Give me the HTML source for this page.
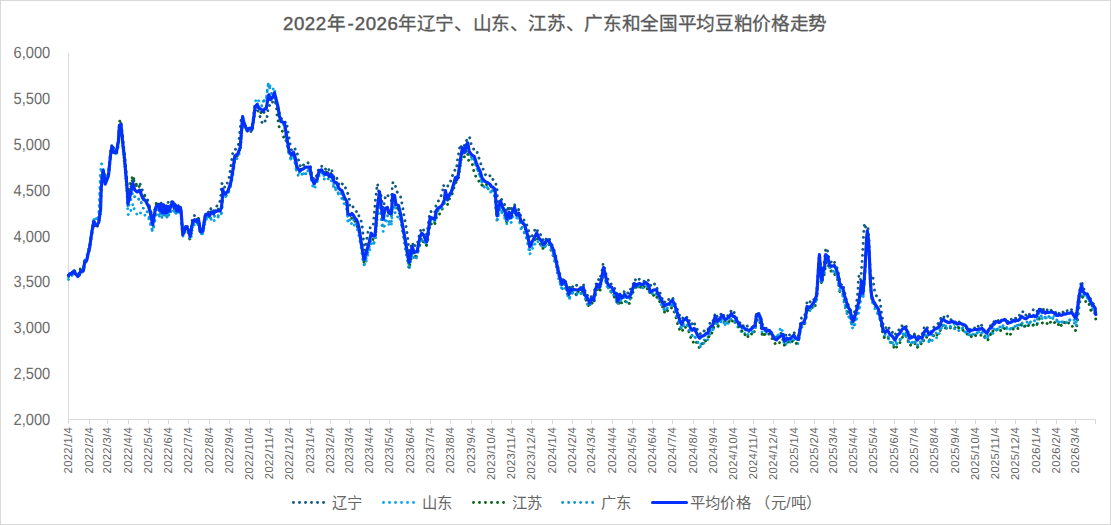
<!DOCTYPE html>
<html lang="zh-CN"><head><meta charset="utf-8"><title>豆粕价格走势</title>
<style>html,body{margin:0;padding:0;background:#fff;}body{width:1111px;height:525px;overflow:hidden;font-family:"Liberation Sans",sans-serif;}svg{display:block;}text{font-family:"Liberation Sans",sans-serif;}</style>
</head><body>
<svg width="1111" height="525" viewBox="0 0 1111 525">
<rect x="0" y="0" width="1111" height="525" fill="#ffffff"/>
<rect x="0.5" y="0.5" width="1110" height="524" fill="none" stroke="#d9d9d9" stroke-width="1"/>
<text y="30" font-size="18.67" fill="#595959" stroke="#595959" stroke-width="0.45" stroke-linejoin="round"><tspan x="283.0" letter-spacing="0.52">2022</tspan><tspan x="327.0">年</tspan><tspan x="347.6">-</tspan><tspan x="354.8" letter-spacing="0.52">2026</tspan><tspan x="397.90 416.55 435.20 453.85 472.50 491.15 509.80 528.45 547.10 565.75 584.40 603.05 621.70 640.35 659.00 677.65 696.30 714.95 733.60 752.25 770.90 789.55 808.20" stroke-width="0.3">年辽宁、山东、江苏、广东和全国平均豆粕价格走势</tspan></text>
<text style="text-rendering:geometricPrecision" transform="translate(50.2 424.80) scale(0.9 1.0)" text-anchor="end" font-size="16.3" fill="#6c6c6c">2,000</text>
<text style="text-rendering:geometricPrecision" transform="translate(50.2 378.99) scale(0.9 1.0)" text-anchor="end" font-size="16.3" fill="#6c6c6c">2,500</text>
<text style="text-rendering:geometricPrecision" transform="translate(50.2 333.18) scale(0.9 1.0)" text-anchor="end" font-size="16.3" fill="#6c6c6c">3,000</text>
<text style="text-rendering:geometricPrecision" transform="translate(50.2 287.36) scale(0.9 1.0)" text-anchor="end" font-size="16.3" fill="#6c6c6c">3,500</text>
<text style="text-rendering:geometricPrecision" transform="translate(50.2 241.55) scale(0.9 1.0)" text-anchor="end" font-size="16.3" fill="#6c6c6c">4,000</text>
<text style="text-rendering:geometricPrecision" transform="translate(50.2 195.74) scale(0.9 1.0)" text-anchor="end" font-size="16.3" fill="#6c6c6c">4,500</text>
<text style="text-rendering:geometricPrecision" transform="translate(50.2 149.93) scale(0.9 1.0)" text-anchor="end" font-size="16.3" fill="#6c6c6c">5,000</text>
<text style="text-rendering:geometricPrecision" transform="translate(50.2 104.11) scale(0.9 1.0)" text-anchor="end" font-size="16.3" fill="#6c6c6c">5,500</text>
<text style="text-rendering:geometricPrecision" transform="translate(50.2 58.30) scale(0.9 1.0)" text-anchor="end" font-size="16.3" fill="#6c6c6c">6,000</text>
<path d="M68.5 53.0 V419.5 H1095.5" fill="none" stroke="#d9d9d9" stroke-width="1"/>
<path d="M68.50 419.5v4.5M89.50 419.5v4.5M107.50 419.5v4.5M128.50 419.5v4.5M148.50 419.5v4.5M168.50 419.5v4.5M188.50 419.5v4.5M209.50 419.5v4.5M229.50 419.5v4.5M249.50 419.5v4.5M269.50 419.5v4.5M289.50 419.5v4.5M310.50 419.5v4.5M330.50 419.5v4.5M349.50 419.5v4.5M369.50 419.5v4.5M389.50 419.5v4.5M410.50 419.5v4.5M430.50 419.5v4.5M450.50 419.5v4.5M471.50 419.5v4.5M491.50 419.5v4.5M511.50 419.5v4.5M531.50 419.5v4.5M552.50 419.5v4.5M572.50 419.5v4.5M591.50 419.5v4.5M612.50 419.5v4.5M632.50 419.5v4.5M652.50 419.5v4.5M672.50 419.5v4.5M693.50 419.5v4.5M713.50 419.5v4.5M733.50 419.5v4.5M753.50 419.5v4.5M773.50 419.5v4.5M794.50 419.5v4.5M814.50 419.5v4.5M833.50 419.5v4.5M853.50 419.5v4.5M873.50 419.5v4.5M894.50 419.5v4.5M914.50 419.5v4.5M934.50 419.5v4.5M955.50 419.5v4.5M975.50 419.5v4.5M995.50 419.5v4.5M1015.50 419.5v4.5M1036.50 419.5v4.5M1056.50 419.5v4.5M1075.50 419.5v4.5M1095.50 419.5v4.5" fill="none" stroke="#d9d9d9" stroke-width="1"/>
<text transform="translate(72.40 427.0) rotate(-90)" text-anchor="end" font-size="11.3" letter-spacing="0.3" fill="#666666">2022/1/4</text>
<text transform="translate(93.40 427.0) rotate(-90)" text-anchor="end" font-size="11.3" letter-spacing="0.3" fill="#666666">2022/2/4</text>
<text transform="translate(111.40 427.0) rotate(-90)" text-anchor="end" font-size="11.3" letter-spacing="0.3" fill="#666666">2022/3/4</text>
<text transform="translate(132.40 427.0) rotate(-90)" text-anchor="end" font-size="11.3" letter-spacing="0.3" fill="#666666">2022/4/4</text>
<text transform="translate(152.40 427.0) rotate(-90)" text-anchor="end" font-size="11.3" letter-spacing="0.3" fill="#666666">2022/5/4</text>
<text transform="translate(172.40 427.0) rotate(-90)" text-anchor="end" font-size="11.3" letter-spacing="0.3" fill="#666666">2022/6/4</text>
<text transform="translate(192.40 427.0) rotate(-90)" text-anchor="end" font-size="11.3" letter-spacing="0.3" fill="#666666">2022/7/4</text>
<text transform="translate(213.40 427.0) rotate(-90)" text-anchor="end" font-size="11.3" letter-spacing="0.3" fill="#666666">2022/8/4</text>
<text transform="translate(233.40 427.0) rotate(-90)" text-anchor="end" font-size="11.3" letter-spacing="0.3" fill="#666666">2022/9/4</text>
<text transform="translate(253.40 427.0) rotate(-90)" text-anchor="end" font-size="11.3" letter-spacing="0.3" fill="#666666">2022/10/4</text>
<text transform="translate(273.40 427.0) rotate(-90)" text-anchor="end" font-size="11.3" letter-spacing="0.3" fill="#666666">2022/11/4</text>
<text transform="translate(293.40 427.0) rotate(-90)" text-anchor="end" font-size="11.3" letter-spacing="0.3" fill="#666666">2022/12/4</text>
<text transform="translate(314.40 427.0) rotate(-90)" text-anchor="end" font-size="11.3" letter-spacing="0.3" fill="#666666">2023/1/4</text>
<text transform="translate(334.40 427.0) rotate(-90)" text-anchor="end" font-size="11.3" letter-spacing="0.3" fill="#666666">2023/2/4</text>
<text transform="translate(353.40 427.0) rotate(-90)" text-anchor="end" font-size="11.3" letter-spacing="0.3" fill="#666666">2023/3/4</text>
<text transform="translate(373.40 427.0) rotate(-90)" text-anchor="end" font-size="11.3" letter-spacing="0.3" fill="#666666">2023/4/4</text>
<text transform="translate(393.40 427.0) rotate(-90)" text-anchor="end" font-size="11.3" letter-spacing="0.3" fill="#666666">2023/5/4</text>
<text transform="translate(414.40 427.0) rotate(-90)" text-anchor="end" font-size="11.3" letter-spacing="0.3" fill="#666666">2023/6/4</text>
<text transform="translate(434.40 427.0) rotate(-90)" text-anchor="end" font-size="11.3" letter-spacing="0.3" fill="#666666">2023/7/4</text>
<text transform="translate(454.40 427.0) rotate(-90)" text-anchor="end" font-size="11.3" letter-spacing="0.3" fill="#666666">2023/8/4</text>
<text transform="translate(475.40 427.0) rotate(-90)" text-anchor="end" font-size="11.3" letter-spacing="0.3" fill="#666666">2023/9/4</text>
<text transform="translate(495.40 427.0) rotate(-90)" text-anchor="end" font-size="11.3" letter-spacing="0.3" fill="#666666">2023/10/4</text>
<text transform="translate(515.40 427.0) rotate(-90)" text-anchor="end" font-size="11.3" letter-spacing="0.3" fill="#666666">2023/11/4</text>
<text transform="translate(535.40 427.0) rotate(-90)" text-anchor="end" font-size="11.3" letter-spacing="0.3" fill="#666666">2023/12/4</text>
<text transform="translate(556.40 427.0) rotate(-90)" text-anchor="end" font-size="11.3" letter-spacing="0.3" fill="#666666">2024/1/4</text>
<text transform="translate(576.40 427.0) rotate(-90)" text-anchor="end" font-size="11.3" letter-spacing="0.3" fill="#666666">2024/2/4</text>
<text transform="translate(595.40 427.0) rotate(-90)" text-anchor="end" font-size="11.3" letter-spacing="0.3" fill="#666666">2024/3/4</text>
<text transform="translate(616.40 427.0) rotate(-90)" text-anchor="end" font-size="11.3" letter-spacing="0.3" fill="#666666">2024/4/4</text>
<text transform="translate(636.40 427.0) rotate(-90)" text-anchor="end" font-size="11.3" letter-spacing="0.3" fill="#666666">2024/5/4</text>
<text transform="translate(656.40 427.0) rotate(-90)" text-anchor="end" font-size="11.3" letter-spacing="0.3" fill="#666666">2024/6/4</text>
<text transform="translate(676.40 427.0) rotate(-90)" text-anchor="end" font-size="11.3" letter-spacing="0.3" fill="#666666">2024/7/4</text>
<text transform="translate(697.40 427.0) rotate(-90)" text-anchor="end" font-size="11.3" letter-spacing="0.3" fill="#666666">2024/8/4</text>
<text transform="translate(717.40 427.0) rotate(-90)" text-anchor="end" font-size="11.3" letter-spacing="0.3" fill="#666666">2024/9/4</text>
<text transform="translate(737.40 427.0) rotate(-90)" text-anchor="end" font-size="11.3" letter-spacing="0.3" fill="#666666">2024/10/4</text>
<text transform="translate(757.40 427.0) rotate(-90)" text-anchor="end" font-size="11.3" letter-spacing="0.3" fill="#666666">2024/11/4</text>
<text transform="translate(777.40 427.0) rotate(-90)" text-anchor="end" font-size="11.3" letter-spacing="0.3" fill="#666666">2024/12/4</text>
<text transform="translate(798.40 427.0) rotate(-90)" text-anchor="end" font-size="11.3" letter-spacing="0.3" fill="#666666">2025/1/4</text>
<text transform="translate(818.40 427.0) rotate(-90)" text-anchor="end" font-size="11.3" letter-spacing="0.3" fill="#666666">2025/2/4</text>
<text transform="translate(837.40 427.0) rotate(-90)" text-anchor="end" font-size="11.3" letter-spacing="0.3" fill="#666666">2025/3/4</text>
<text transform="translate(857.40 427.0) rotate(-90)" text-anchor="end" font-size="11.3" letter-spacing="0.3" fill="#666666">2025/4/4</text>
<text transform="translate(877.40 427.0) rotate(-90)" text-anchor="end" font-size="11.3" letter-spacing="0.3" fill="#666666">2025/5/4</text>
<text transform="translate(898.40 427.0) rotate(-90)" text-anchor="end" font-size="11.3" letter-spacing="0.3" fill="#666666">2025/6/4</text>
<text transform="translate(918.40 427.0) rotate(-90)" text-anchor="end" font-size="11.3" letter-spacing="0.3" fill="#666666">2025/7/4</text>
<text transform="translate(938.40 427.0) rotate(-90)" text-anchor="end" font-size="11.3" letter-spacing="0.3" fill="#666666">2025/8/4</text>
<text transform="translate(959.40 427.0) rotate(-90)" text-anchor="end" font-size="11.3" letter-spacing="0.3" fill="#666666">2025/9/4</text>
<text transform="translate(979.40 427.0) rotate(-90)" text-anchor="end" font-size="11.3" letter-spacing="0.3" fill="#666666">2025/10/4</text>
<text transform="translate(999.40 427.0) rotate(-90)" text-anchor="end" font-size="11.3" letter-spacing="0.3" fill="#666666">2025/11/4</text>
<text transform="translate(1019.40 427.0) rotate(-90)" text-anchor="end" font-size="11.3" letter-spacing="0.3" fill="#666666">2025/12/4</text>
<text transform="translate(1040.40 427.0) rotate(-90)" text-anchor="end" font-size="11.3" letter-spacing="0.3" fill="#666666">2026/1/4</text>
<text transform="translate(1060.40 427.0) rotate(-90)" text-anchor="end" font-size="11.3" letter-spacing="0.3" fill="#666666">2026/2/4</text>
<text transform="translate(1079.40 427.0) rotate(-90)" text-anchor="end" font-size="11.3" letter-spacing="0.3" fill="#666666">2026/3/4</text>
<path d="M68.5 276.5 L69.2 277.1 L69.8 276.5 L70.5 275.4 L71.1 274.1 L71.8 273.5 L72.5 271.8 L73.1 269.9 L73.8 269.4 L74.4 270.4 L75.1 271.9 L75.8 272.2 L76.4 273.3 L77.1 274.4 L77.7 274.3 L78.4 273.9 L79.1 273.0 L79.7 273.6 L80.4 272.3 L81.0 271.2 L81.7 272.0 L82.4 271.9 L83.0 272.3 L83.7 269.5 L84.3 264.9 L85.0 262.5 L85.7 262.4 L86.3 261.8 L87.0 259.4 L87.6 256.7 L88.3 253.7 L89.0 251.3 L89.6 248.3 L90.3 244.8 L90.9 240.2 L91.6 235.8 L92.3 231.7 L92.9 226.3 L93.6 221.6 L94.2 221.5 L94.9 223.9 L95.6 224.4 L96.2 225.6 L96.9 226.0 L97.5 224.5 L98.2 222.2 L98.9 220.6 L99.5 215.9 L100.2 212.1 L100.8 199.4 L101.5 183.4 L102.2 177.0 L102.8 173.1 L103.5 171.5 L104.1 175.1 L104.8 179.8 L105.5 181.9 L106.1 180.3 L106.8 178.7 L107.4 176.2 L108.1 174.9 L108.8 172.0 L109.4 165.0 L110.1 157.3 L110.7 151.1 L111.4 147.5 L112.1 143.8 L112.7 145.9 L113.4 147.4 L114.0 149.0 L114.7 149.0 L115.4 149.2 L116.0 150.5 L116.7 149.4 L117.3 146.7 L118.0 142.8 L118.7 136.0 L119.3 125.6 L120.0 121.8 L120.6 121.6 L121.3 125.1 L122.0 131.4 L122.6 138.6 L123.3 144.3 L123.9 148.7 L124.6 155.4 L125.3 162.4 L125.9 169.7 L126.6 177.2 L127.2 185.9 L127.9 199.7 L128.6 197.7 L129.2 195.4 L129.9 191.5 L130.5 189.8 L131.2 185.8 L131.9 183.0 L132.5 179.0 L133.2 177.9 L133.8 180.0 L134.5 183.8 L135.2 185.6 L135.8 185.5 L136.5 185.7 L137.1 185.4 L137.8 185.0 L138.5 184.0 L139.1 184.1 L139.8 183.1 L140.4 184.9 L141.1 186.4 L141.8 188.1 L142.4 190.4 L143.1 191.5 L143.7 192.9 L144.4 194.6 L145.1 196.2 L145.7 196.3 L146.4 198.1 L147.0 198.2 L147.7 200.1 L148.4 203.6 L149.0 205.2 L149.7 206.8 L150.3 209.3 L151.0 212.5 L151.7 215.8 L152.3 218.6 L153.0 219.4 L153.6 216.5 L154.3 212.7 L155.0 209.3 L155.6 206.2 L156.3 204.4 L156.9 203.8 L157.6 203.5 L158.3 202.4 L158.9 202.8 L159.6 205.9 L160.2 205.2 L160.9 201.9 L161.6 205.4 L162.2 209.0 L162.9 205.0 L163.5 203.9 L164.2 209.0 L164.9 209.2 L165.5 205.0 L166.2 204.3 L166.8 207.0 L167.5 205.5 L168.2 202.3 L168.8 205.3 L169.5 207.9 L170.1 205.9 L170.8 204.4 L171.5 202.2 L172.1 199.6 L172.8 199.6 L173.4 203.9 L174.1 206.2 L174.8 203.9 L175.4 202.5 L176.1 206.6 L176.7 207.5 L177.4 205.5 L178.1 204.3 L178.7 207.6 L179.4 207.8 L180.0 205.9 L180.7 208.3 L181.4 213.7 L182.0 222.2 L182.7 232.6 L183.3 231.3 L184.0 231.0 L184.7 228.9 L185.3 226.1 L186.0 225.1 L186.6 225.7 L187.3 226.5 L188.0 227.0 L188.6 229.2 L189.3 229.9 L189.9 232.1 L190.6 229.7 L191.3 227.4 L191.9 222.0 L192.6 218.1 L193.2 216.3 L193.9 215.5 L194.6 215.6 L195.2 216.6 L195.9 218.4 L196.5 218.5 L197.2 218.2 L197.9 218.4 L198.5 218.3 L199.2 222.1 L199.8 227.7 L200.5 229.4 L201.2 230.6 L201.8 230.4 L202.5 230.0 L203.1 226.4 L203.8 222.8 L204.5 219.8 L205.1 215.2 L205.8 213.9 L206.4 213.5 L207.1 212.1 L207.8 210.6 L208.4 211.9 L209.1 212.3 L209.7 213.0 L210.4 210.8 L211.1 207.4 L211.7 207.3 L212.4 208.4 L213.0 210.4 L213.7 210.8 L214.4 210.0 L215.0 209.3 L215.7 207.8 L216.3 207.3 L217.0 205.8 L217.7 205.8 L218.3 204.2 L219.0 202.7 L219.6 202.1 L220.3 200.5 L221.0 193.3 L221.6 184.0 L222.3 183.2 L222.9 185.2 L223.6 187.1 L224.3 187.6 L224.9 186.8 L225.6 187.3 L226.2 186.8 L226.9 185.4 L227.6 181.8 L228.2 179.3 L228.9 178.2 L229.5 175.4 L230.2 170.5 L230.9 165.9 L231.5 161.6 L232.2 157.4 L232.8 152.8 L233.5 150.7 L234.2 149.6 L234.8 149.9 L235.5 149.2 L236.1 148.3 L236.8 148.3 L237.5 146.8 L238.1 145.1 L238.8 143.1 L239.4 136.0 L240.1 129.6 L240.8 122.8 L241.4 117.6 L242.1 117.9 L242.7 121.1 L243.4 122.8 L244.1 124.5 L244.7 126.1 L245.4 127.4 L246.0 128.8 L246.7 130.1 L247.4 131.0 L248.0 129.4 L248.7 130.9 L249.3 131.4 L250.0 131.1 L250.7 131.2 L251.3 132.2 L252.0 132.5 L252.6 128.8 L253.3 124.6 L254.0 119.3 L254.6 114.5 L255.3 110.6 L255.9 109.2 L256.6 108.1 L257.3 108.2 L257.9 109.7 L258.6 113.4 L259.2 114.4 L259.9 116.4 L260.6 117.9 L261.2 119.7 L261.9 122.3 L262.5 123.9 L263.2 123.8 L263.9 122.8 L264.5 121.3 L265.2 120.9 L265.8 121.5 L266.5 119.9 L267.2 115.9 L267.8 111.0 L268.5 107.0 L269.1 105.2 L269.8 105.6 L270.5 106.1 L271.1 104.2 L271.8 103.9 L272.4 102.5 L273.1 100.2 L273.8 98.8 L274.4 96.1 L275.1 99.4 L275.7 101.9 L276.4 103.4 L277.1 105.1 L277.7 108.1 L278.4 109.3 L279.0 111.6 L279.7 114.4 L280.4 116.2 L281.0 117.6 L281.7 119.1 L282.4 120.0 L283.0 120.5 L283.7 121.7 L284.3 122.1 L285.0 121.7 L285.7 123.0 L286.3 122.1 L287.0 125.3 L287.6 129.1 L288.3 133.6 L289.0 137.5 L289.6 140.9 L290.3 145.0 L290.9 148.4 L291.6 150.2 L292.3 148.8 L292.9 150.1 L293.6 150.2 L294.2 149.8 L294.9 149.2 L295.6 148.9 L296.2 150.2 L296.9 152.2 L297.5 154.9 L298.2 158.5 L298.9 161.8 L299.5 162.8 L300.2 165.5 L300.8 167.3 L301.5 166.6 L302.2 167.0 L302.8 165.5 L303.5 165.0 L304.1 164.2 L304.8 163.5 L305.5 163.4 L306.1 163.0 L306.8 162.1 L307.4 162.4 L308.1 162.9 L308.8 164.4 L309.4 164.0 L310.1 164.2 L310.7 168.1 L311.4 172.9 L312.1 175.3 L312.7 176.3 L313.4 178.3 L314.0 179.7 L314.7 179.5 L315.4 178.0 L316.0 176.5 L316.7 175.5 L317.3 173.4 L318.0 171.0 L318.7 169.3 L319.3 167.5 L320.0 167.7 L320.6 167.7 L321.3 166.7 L322.0 166.0 L322.6 167.6 L323.3 168.5 L323.9 169.4 L324.6 169.4 L325.3 169.3 L325.9 168.7 L326.6 168.0 L327.2 167.5 L327.9 167.0 L328.6 168.8 L329.2 171.3 L329.9 171.4 L330.5 171.1 L331.2 169.9 L331.9 170.1 L332.5 173.3 L333.2 174.6 L333.8 176.7 L334.5 178.5 L335.2 178.9 L335.8 179.0 L336.5 177.5 L337.1 178.8 L337.8 181.0 L338.5 183.4 L339.1 185.1 L339.8 184.8 L340.4 184.4 L341.1 183.2 L341.8 182.8 L342.4 184.0 L343.1 184.4 L343.7 184.3 L344.4 186.3 L345.1 186.2 L345.7 189.0 L346.4 190.6 L347.0 192.0 L347.7 193.4 L348.4 194.5 L349.0 196.4 L349.7 205.5 L350.3 207.3 L351.0 206.9 L351.7 206.0 L352.3 206.0 L353.0 206.9 L353.6 207.6 L354.3 208.6 L355.0 210.4 L355.6 210.8 L356.3 211.6 L356.9 211.0 L357.6 211.5 L358.3 213.8 L358.9 215.8 L359.6 217.5 L360.2 219.7 L360.9 220.1 L361.6 222.6 L362.2 227.1 L362.9 233.3 L363.5 240.4 L364.2 246.9 L364.9 250.5 L365.5 247.6 L366.2 243.4 L366.8 239.1 L367.5 234.8 L368.2 230.8 L368.8 228.7 L369.5 227.4 L370.1 227.8 L370.8 227.9 L371.5 227.6 L372.1 227.6 L372.8 227.4 L373.4 223.5 L374.1 215.9 L374.8 207.5 L375.4 200.0 L376.1 194.6 L376.7 189.4 L377.4 183.7 L378.1 186.5 L378.7 192.4 L379.4 194.1 L380.0 193.8 L380.7 194.5 L381.4 196.9 L382.0 202.2 L382.7 206.4 L383.3 208.5 L384.0 204.6 L384.7 199.1 L385.3 197.5 L386.0 196.7 L386.6 194.6 L387.3 194.3 L388.0 195.8 L388.6 196.7 L389.3 198.2 L389.9 199.1 L390.6 200.1 L391.3 200.7 L391.9 192.9 L392.6 183.4 L393.2 182.0 L393.9 182.3 L394.6 183.3 L395.2 185.2 L395.9 188.0 L396.5 190.7 L397.2 192.1 L397.9 193.4 L398.5 194.0 L399.2 194.9 L399.8 195.9 L400.5 196.7 L401.2 199.1 L401.8 202.7 L402.5 205.7 L403.1 210.0 L403.8 214.5 L404.5 217.5 L405.1 220.8 L405.8 225.1 L406.4 228.9 L407.1 233.5 L407.8 238.4 L408.4 244.9 L409.1 251.1 L409.7 254.3 L410.4 250.6 L411.1 246.4 L411.7 244.1 L412.4 242.4 L413.0 244.9 L413.7 246.3 L414.4 247.7 L415.0 245.4 L415.7 245.4 L416.3 246.0 L417.0 245.4 L417.7 242.3 L418.3 239.1 L419.0 236.4 L419.6 233.9 L420.3 232.5 L421.0 229.3 L421.6 228.3 L422.3 227.8 L422.9 228.1 L423.6 230.1 L424.3 231.0 L424.9 231.5 L425.6 233.5 L426.2 234.7 L426.9 233.5 L427.6 229.1 L428.2 224.7 L428.9 219.9 L429.5 214.7 L430.2 211.5 L430.9 211.4 L431.5 212.7 L432.2 212.1 L432.8 213.0 L433.5 212.6 L434.2 212.8 L434.8 212.6 L435.5 209.4 L436.1 204.9 L436.8 202.6 L437.5 201.9 L438.1 201.6 L438.8 200.1 L439.4 199.1 L440.1 198.5 L440.8 196.4 L441.4 195.1 L442.1 193.0 L442.7 190.4 L443.4 184.8 L444.1 186.8 L444.7 188.2 L445.4 191.4 L446.0 190.4 L446.7 188.5 L447.4 186.9 L448.0 185.3 L448.7 185.0 L449.3 184.8 L450.0 183.4 L450.7 180.8 L451.3 180.0 L452.0 178.3 L452.6 175.2 L453.3 172.8 L454.0 170.8 L454.6 170.2 L455.3 170.3 L455.9 170.6 L456.6 167.9 L457.3 161.8 L457.9 157.0 L458.6 153.6 L459.2 149.7 L459.9 146.7 L460.6 144.5 L461.2 146.8 L461.9 148.3 L462.5 147.6 L463.2 147.4 L463.9 147.5 L464.5 145.0 L465.2 141.8 L465.8 141.7 L466.5 140.6 L467.2 139.1 L467.8 138.1 L468.5 136.6 L469.1 137.2 L469.8 137.9 L470.5 140.5 L471.1 143.8 L471.8 145.3 L472.4 147.1 L473.1 147.8 L473.8 149.6 L474.4 149.3 L475.1 149.4 L475.7 149.5 L476.4 150.0 L477.1 151.8 L477.7 154.6 L478.4 157.4 L479.0 158.1 L479.7 160.7 L480.4 162.2 L481.0 164.7 L481.7 165.6 L482.3 166.2 L483.0 168.7 L483.7 171.3 L484.3 172.9 L485.0 174.1 L485.6 174.9 L486.3 175.8 L487.0 175.1 L487.6 174.8 L488.3 175.3 L488.9 176.0 L489.6 176.1 L490.3 175.4 L490.9 177.2 L491.6 177.6 L492.2 177.4 L492.9 179.4 L493.6 181.0 L494.2 182.3 L494.9 183.4 L495.5 184.3 L496.2 184.2 L496.9 185.4 L497.5 198.3 L498.2 210.5 L498.8 207.2 L499.5 201.8 L500.2 198.5 L500.8 197.6 L501.5 199.4 L502.1 200.8 L502.8 201.3 L503.5 201.9 L504.1 203.6 L504.8 205.0 L505.4 207.9 L506.1 209.3 L506.8 212.0 L507.4 212.0 L508.1 208.5 L508.7 205.8 L509.4 206.1 L510.1 210.1 L510.7 211.4 L511.4 208.9 L512.0 207.0 L512.7 205.2 L513.4 204.8 L514.0 204.4 L514.7 205.0 L515.3 207.7 L516.0 210.7 L516.7 212.7 L517.3 212.7 L518.0 210.2 L518.6 209.6 L519.3 211.0 L520.0 213.4 L520.6 215.8 L521.3 216.9 L521.9 217.8 L522.6 218.5 L523.3 219.6 L523.9 220.0 L524.6 220.5 L525.2 221.4 L525.9 221.8 L526.6 224.3 L527.2 226.5 L527.9 228.1 L528.5 230.3 L529.2 234.4 L529.9 238.0 L530.5 238.8 L531.2 238.4 L531.8 236.6 L532.5 235.2 L533.2 233.4 L533.8 231.9 L534.5 230.7 L535.1 229.7 L535.8 228.3 L536.5 227.9 L537.1 229.0 L537.8 232.2 L538.4 232.7 L539.1 234.4 L539.8 234.9 L540.4 234.5 L541.1 235.2 L541.7 235.3 L542.4 237.0 L543.1 240.6 L543.7 241.4 L544.4 241.8 L545.0 241.5 L545.7 239.3 L546.4 239.1 L547.0 238.7 L547.7 238.5 L548.3 237.8 L549.0 237.2 L549.7 240.0 L550.3 241.8 L551.0 243.1 L551.6 244.1 L552.3 245.6 L553.0 246.1 L553.6 248.4 L554.3 250.9 L554.9 253.2 L555.6 255.3 L556.3 258.1 L556.9 261.5 L557.6 264.5 L558.2 268.2 L558.9 270.8 L559.6 273.2 L560.2 275.0 L560.9 278.4 L561.5 281.6 L562.2 282.5 L562.9 279.6 L563.5 278.0 L564.2 278.5 L564.8 279.4 L565.5 281.3 L566.2 282.4 L566.8 285.3 L567.5 288.0 L568.1 288.0 L568.8 289.8 L569.5 288.9 L570.1 286.2 L570.8 284.7 L571.4 286.2 L572.1 286.2 L572.8 286.9 L573.4 285.9 L574.1 284.5 L574.7 284.5 L575.4 285.1 L576.1 284.8 L576.7 285.4 L577.4 286.1 L578.0 285.8 L578.7 285.8 L579.4 285.3 L580.0 286.2 L580.7 287.5 L581.3 287.5 L582.0 286.1 L582.7 284.6 L583.3 283.8 L584.0 287.0 L584.6 289.0 L585.3 292.5 L586.0 292.2 L586.6 293.0 L587.3 294.8 L587.9 297.1 L588.6 298.1 L589.3 300.0 L589.9 301.7 L590.6 300.3 L591.2 296.4 L591.9 295.8 L592.6 297.9 L593.2 297.2 L593.9 296.2 L594.5 290.6 L595.2 288.1 L595.9 284.5 L596.5 283.3 L597.2 282.1 L597.8 279.3 L598.5 279.3 L599.2 280.7 L599.8 279.0 L600.5 276.8 L601.1 273.8 L601.8 272.1 L602.5 268.0 L603.1 263.7 L603.8 263.6 L604.4 267.4 L605.1 270.0 L605.8 273.0 L606.4 276.3 L607.1 278.7 L607.7 278.8 L608.4 280.2 L609.1 281.0 L609.7 281.0 L610.4 282.7 L611.0 283.8 L611.7 284.6 L612.4 284.8 L613.0 285.5 L613.7 287.0 L614.3 288.3 L615.0 288.6 L615.7 288.9 L616.3 291.1 L617.0 293.9 L617.6 297.2 L618.3 296.2 L619.0 294.6 L619.6 293.5 L620.3 293.7 L620.9 294.8 L621.6 296.5 L622.3 295.2 L622.9 293.7 L623.6 294.2 L624.2 291.6 L624.9 290.9 L625.6 292.4 L626.2 292.7 L626.9 293.0 L627.5 292.3 L628.2 293.7 L628.9 293.2 L629.5 292.4 L630.2 289.6 L630.8 288.9 L631.5 287.5 L632.2 286.1 L632.8 285.3 L633.5 283.2 L634.1 280.2 L634.8 279.1 L635.5 279.8 L636.1 281.4 L636.8 280.9 L637.4 280.3 L638.1 279.9 L638.8 280.0 L639.4 278.9 L640.1 279.1 L640.7 280.0 L641.4 280.2 L642.1 280.3 L642.7 281.0 L643.4 280.9 L644.0 281.3 L644.7 279.9 L645.4 280.3 L646.0 280.0 L646.7 279.6 L647.3 279.7 L648.0 279.4 L648.7 281.1 L649.3 284.4 L650.0 285.1 L650.6 285.2 L651.3 285.9 L652.0 285.7 L652.6 286.4 L653.3 285.4 L653.9 285.6 L654.6 283.9 L655.3 283.8 L655.9 284.9 L656.6 286.2 L657.2 288.9 L657.9 290.2 L658.6 290.8 L659.2 292.0 L659.9 292.0 L660.5 294.5 L661.2 296.8 L661.9 297.3 L662.5 300.1 L663.2 300.3 L663.8 302.1 L664.5 302.8 L665.2 301.1 L665.8 301.2 L666.5 300.1 L667.1 300.8 L667.8 299.7 L668.5 299.6 L669.1 298.9 L669.8 298.7 L670.4 297.9 L671.1 298.1 L671.8 297.9 L672.4 297.4 L673.1 298.7 L673.7 301.5 L674.4 302.1 L675.1 303.4 L675.7 305.9 L676.4 307.8 L677.0 308.5 L677.7 310.5 L678.4 312.2 L679.0 313.4 L679.7 315.7 L680.3 316.7 L681.0 318.4 L681.7 318.8 L682.3 319.0 L683.0 317.5 L683.6 316.9 L684.3 316.6 L685.0 316.6 L685.6 315.8 L686.3 316.7 L686.9 317.5 L687.6 316.4 L688.3 317.7 L688.9 318.9 L689.6 321.8 L690.2 324.0 L690.9 324.7 L691.6 324.0 L692.2 323.7 L692.9 322.7 L693.5 322.3 L694.2 321.3 L694.8 324.6 L695.5 326.5 L696.2 328.0 L696.8 328.7 L697.5 329.8 L698.1 331.0 L698.8 332.0 L699.5 333.3 L700.1 334.1 L700.8 332.2 L701.4 332.0 L702.1 332.7 L702.8 331.5 L703.4 331.4 L704.1 331.0 L704.7 330.2 L705.4 330.7 L706.1 330.2 L706.7 330.8 L707.4 330.6 L708.0 329.2 L708.7 327.7 L709.4 325.8 L710.0 323.0 L710.7 323.7 L711.3 323.5 L712.0 323.8 L712.7 321.6 L713.3 320.1 L714.0 318.4 L714.6 315.9 L715.3 312.9 L716.0 314.5 L716.6 315.4 L717.3 316.8 L717.9 317.0 L718.6 315.6 L719.3 314.9 L719.9 314.3 L720.6 314.8 L721.2 313.9 L721.9 314.9 L722.6 313.2 L723.2 314.0 L723.9 315.9 L724.5 315.6 L725.2 316.7 L725.9 316.6 L726.5 315.6 L727.2 315.1 L727.8 315.8 L728.5 314.9 L729.2 314.1 L729.8 313.5 L730.5 313.3 L731.1 310.7 L731.8 309.7 L732.5 309.6 L733.1 310.3 L733.8 311.7 L734.4 313.2 L735.1 314.2 L735.8 316.5 L736.4 317.4 L737.1 318.9 L737.7 319.2 L738.4 320.6 L739.1 320.9 L739.7 322.6 L740.4 323.9 L741.0 325.5 L741.7 325.3 L742.4 324.6 L743.0 325.6 L743.7 326.1 L744.3 326.0 L745.0 325.4 L745.7 326.5 L746.3 325.5 L747.0 325.5 L747.6 326.8 L748.3 326.9 L749.0 327.6 L749.6 327.8 L750.3 327.8 L750.9 328.0 L751.6 327.9 L752.3 327.0 L752.9 325.3 L753.6 324.4 L754.2 323.3 L754.9 323.1 L755.6 320.5 L756.2 315.8 L756.9 312.9 L757.5 313.2 L758.2 313.4 L758.9 313.2 L759.5 314.5 L760.2 316.5 L760.8 318.2 L761.5 321.5 L762.2 324.6 L762.8 324.3 L763.5 325.5 L764.1 325.4 L764.8 325.8 L765.5 326.7 L766.1 328.2 L766.8 328.9 L767.4 329.9 L768.1 329.4 L768.8 328.8 L769.4 330.3 L770.1 331.5 L770.7 332.6 L771.4 333.6 L772.1 334.2 L772.7 335.2 L773.4 336.5 L774.0 337.4 L774.7 336.8 L775.4 338.1 L776.0 337.4 L776.7 336.7 L777.3 336.2 L778.0 335.4 L778.7 334.4 L779.3 334.0 L780.0 334.3 L780.6 333.6 L781.3 333.4 L782.0 331.9 L782.6 332.0 L783.3 332.8 L783.9 336.3 L784.6 337.9 L785.3 336.7 L785.9 335.1 L786.6 333.6 L787.2 333.6 L787.9 333.5 L788.6 334.0 L789.2 335.4 L789.9 334.5 L790.5 334.0 L791.2 333.6 L791.9 332.8 L792.5 332.3 L793.2 332.1 L793.8 332.5 L794.5 333.0 L795.2 333.9 L795.8 334.7 L796.5 335.9 L797.1 335.4 L797.8 335.8 L798.5 335.7 L799.1 332.3 L799.8 327.9 L800.4 323.3 L801.1 318.3 L801.8 317.9 L802.4 317.7 L803.1 316.6 L803.7 317.2 L804.4 315.9 L805.1 314.2 L805.7 311.8 L806.4 307.2 L807.0 302.1 L807.7 302.8 L808.4 302.7 L809.0 303.8 L809.7 302.7 L810.3 301.4 L811.0 302.2 L811.7 302.3 L812.3 302.3 L813.0 300.4 L813.6 299.8 L814.3 299.1 L815.0 297.8 L815.6 295.6 L816.3 294.6 L816.9 288.9 L817.6 278.9 L818.3 269.3 L818.9 258.8 L819.6 254.9 L820.2 262.2 L820.9 268.2 L821.6 274.6 L822.2 273.4 L822.9 267.5 L823.5 265.3 L824.2 262.4 L824.9 256.4 L825.5 250.4 L826.2 247.8 L826.8 249.3 L827.5 250.9 L828.2 253.6 L828.8 258.0 L829.5 260.7 L830.1 261.3 L830.8 261.6 L831.5 262.4 L832.1 262.5 L832.8 261.4 L833.4 261.1 L834.1 260.5 L834.8 263.6 L835.4 265.5 L836.1 265.9 L836.7 267.4 L837.4 268.1 L838.1 270.6 L838.7 275.3 L839.4 278.8 L840.0 283.3 L840.7 284.0 L841.4 284.7 L842.0 285.3 L842.7 284.0 L843.3 285.9 L844.0 290.2 L844.7 292.2 L845.3 295.4 L846.0 298.8 L846.6 300.7 L847.3 303.3 L848.0 304.6 L848.6 305.3 L849.3 306.9 L849.9 308.4 L850.6 310.4 L851.3 313.6 L851.9 315.5 L852.6 316.1 L853.2 316.7 L853.9 314.0 L854.6 310.7 L855.2 309.4 L855.9 308.0 L856.5 303.2 L857.2 298.4 L857.9 290.7 L858.5 278.4 L859.2 275.1 L859.8 278.9 L860.5 279.4 L861.2 274.0 L861.8 265.3 L862.5 255.9 L863.1 244.4 L863.8 231.7 L864.5 224.0 L865.1 223.3 L865.8 228.1 L866.4 228.6 L867.1 227.2 L867.8 227.0 L868.4 230.6 L869.1 242.0 L869.7 256.4 L870.4 272.8 L871.1 279.6 L871.7 278.4 L872.4 278.9 L873.0 278.2 L873.7 285.7 L874.4 289.8 L875.0 292.2 L875.7 294.0 L876.3 295.6 L877.0 296.9 L877.7 298.0 L878.3 297.9 L879.0 299.3 L879.6 299.9 L880.3 302.7 L881.0 308.8 L881.6 314.1 L882.3 317.2 L882.9 323.6 L883.6 327.2 L884.3 327.6 L884.9 327.7 L885.6 328.2 L886.2 327.2 L886.9 326.7 L887.6 326.5 L888.2 328.3 L888.9 327.4 L889.5 329.7 L890.2 330.0 L890.9 330.5 L891.5 331.7 L892.2 332.6 L892.8 331.9 L893.5 333.7 L894.2 334.8 L894.8 335.2 L895.5 333.9 L896.1 331.7 L896.8 331.5 L897.5 331.7 L898.1 330.7 L898.8 330.0 L899.4 328.6 L900.1 327.6 L900.8 326.0 L901.4 325.4 L902.1 325.9 L902.7 326.1 L903.4 326.3 L904.1 324.9 L904.7 325.0 L905.4 325.4 L906.0 325.7 L906.7 327.4 L907.4 328.4 L908.0 332.1 L908.7 333.9 L909.3 335.4 L910.0 336.7 L910.7 335.3 L911.3 335.4 L912.0 336.2 L912.6 335.5 L913.3 334.7 L914.0 335.1 L914.6 333.8 L915.3 335.0 L915.9 335.5 L916.6 336.7 L917.3 336.9 L917.9 336.6 L918.6 336.1 L919.2 336.5 L919.9 335.6 L920.6 336.1 L921.2 334.8 L921.9 334.5 L922.5 333.1 L923.2 330.2 L923.9 328.4 L924.5 326.9 L925.2 326.8 L925.8 326.6 L926.5 325.6 L927.2 327.4 L927.8 328.3 L928.5 329.7 L929.1 331.3 L929.8 331.2 L930.5 331.1 L931.1 331.8 L931.8 330.5 L932.4 329.5 L933.1 327.3 L933.8 327.2 L934.4 325.6 L935.1 325.0 L935.7 324.6 L936.4 324.8 L937.1 324.4 L937.7 323.8 L938.4 323.4 L939.0 322.8 L939.7 321.8 L940.4 319.6 L941.0 317.7 L941.7 315.4 L942.3 315.8 L943.0 316.3 L943.7 316.8 L944.3 317.5 L945.0 317.5 L945.6 318.4 L946.3 317.6 L947.0 316.2 L947.6 315.9 L948.3 317.7 L948.9 318.4 L949.6 319.7 L950.3 319.0 L950.9 319.6 L951.6 320.5 L952.2 320.8 L952.9 320.9 L953.6 321.6 L954.2 321.1 L954.9 322.4 L955.5 321.4 L956.2 320.8 L956.9 320.8 L957.5 320.4 L958.2 321.8 L958.8 322.3 L959.5 321.7 L960.2 323.0 L960.8 323.9 L961.5 323.4 L962.1 324.5 L962.8 325.1 L963.5 324.6 L964.1 324.2 L964.8 324.7 L965.4 325.7 L966.1 327.0 L966.8 329.0 L967.4 329.4 L968.1 329.0 L968.7 327.7 L969.4 328.9 L970.1 329.5 L970.7 330.2 L971.4 329.8 L972.0 329.5 L972.7 329.4 L973.4 329.4 L974.0 329.0 L974.7 327.9 L975.3 326.7 L976.0 326.8 L976.7 326.7 L977.3 327.8 L978.0 326.8 L978.6 325.3 L979.3 324.0 L980.0 324.3 L980.6 325.8 L981.3 325.5 L981.9 325.0 L982.6 326.2 L983.3 328.2 L983.9 329.7 L984.6 331.0 L985.2 331.9 L985.9 332.0 L986.6 332.4 L987.2 332.2 L987.9 332.3 L988.5 329.1 L989.2 327.6 L989.9 326.7 L990.5 325.6 L991.2 324.6 L991.8 323.5 L992.5 322.0 L993.2 321.7 L993.8 322.0 L994.5 321.0 L995.1 320.6 L995.8 320.7 L996.5 320.2 L997.1 320.3 L997.8 319.5 L998.4 320.9 L999.1 322.0 L999.8 321.2 L1000.4 322.0 L1001.1 321.7 L1001.7 319.5 L1002.4 319.4 L1003.1 319.2 L1003.7 319.1 L1004.4 319.2 L1005.0 318.8 L1005.7 320.4 L1006.4 321.2 L1007.0 323.2 L1007.7 323.5 L1008.3 321.1 L1009.0 322.3 L1009.7 322.2 L1010.3 320.4 L1011.0 319.6 L1011.6 318.6 L1012.3 318.9 L1013.0 318.0 L1013.6 318.5 L1014.3 318.0 L1014.9 318.7 L1015.6 318.2 L1016.3 317.2 L1016.9 317.7 L1017.6 317.3 L1018.2 317.5 L1018.9 316.0 L1019.6 315.2 L1020.2 314.2 L1020.9 314.9 L1021.5 314.2 L1022.2 313.3 L1022.9 311.6 L1023.5 313.8 L1024.2 314.7 L1024.8 314.0 L1025.5 314.8 L1026.2 315.3 L1026.8 316.6 L1027.5 316.3 L1028.1 315.4 L1028.8 315.7 L1029.5 314.2 L1030.1 313.6 L1030.8 312.7 L1031.4 312.2 L1032.1 311.2 L1032.8 310.1 L1033.4 309.5 L1034.1 310.4 L1034.7 311.0 L1035.4 311.5 L1036.1 312.3 L1036.7 312.4 L1037.4 311.1 L1038.0 311.0 L1038.7 309.4 L1039.4 308.2 L1040.0 308.1 L1040.7 309.4 L1041.3 310.9 L1042.0 309.0 L1042.7 310.0 L1043.3 309.3 L1044.0 309.7 L1044.6 309.9 L1045.3 309.1 L1046.0 308.2 L1046.6 308.1 L1047.3 310.2 L1047.9 309.1 L1048.6 308.7 L1049.3 308.5 L1049.9 308.3 L1050.6 309.2 L1051.2 310.6 L1051.9 310.2 L1052.6 310.4 L1053.2 310.3 L1053.9 311.7 L1054.5 311.7 L1055.2 312.3 L1055.9 312.4 L1056.5 313.4 L1057.2 313.5 L1057.8 313.0 L1058.5 314.6 L1059.2 312.8 L1059.8 312.9 L1060.5 312.5 L1061.1 311.8 L1061.8 313.1 L1062.5 312.8 L1063.1 311.9 L1063.8 310.7 L1064.4 310.7 L1065.1 310.6 L1065.8 310.2 L1066.4 309.6 L1067.1 310.7 L1067.7 310.6 L1068.4 310.3 L1069.1 309.1 L1069.7 308.5 L1070.4 309.2 L1071.0 309.0 L1071.7 309.9 L1072.4 310.1 L1073.0 310.7 L1073.7 311.7 L1074.3 312.2 L1075.0 312.9 L1075.7 313.7 L1076.3 312.6 L1077.0 309.7 L1077.6 305.4 L1078.3 298.8 L1079.0 295.0 L1079.6 291.0 L1080.3 286.8 L1080.9 283.7 L1081.6 280.9 L1082.3 284.2 L1082.9 287.4 L1083.6 288.2 L1084.2 289.8 L1084.9 291.6 L1085.6 291.6 L1086.2 292.8 L1086.9 293.4 L1087.5 294.2 L1088.2 295.3 L1088.9 296.4 L1089.5 298.0 L1090.2 298.3 L1090.8 299.5 L1091.5 299.9 L1092.2 302.0 L1092.8 302.9 L1093.5 304.0 L1094.1 304.4 L1094.8 304.6 L1095.5 309.7 L1095.8 311.9" fill="none" stroke="#10597f" stroke-width="2.9" stroke-linecap="round" stroke-linejoin="round" stroke-dasharray="0.01 6"/>
<path d="M68.5 279.4 L69.2 278.2 L69.8 278.0 L70.5 277.6 L71.1 277.8 L71.8 275.8 L72.5 274.5 L73.1 272.9 L73.8 271.2 L74.4 271.5 L75.1 272.3 L75.8 273.3 L76.4 273.8 L77.1 275.4 L77.7 276.1 L78.4 272.8 L79.1 273.1 L79.7 271.8 L80.4 270.3 L81.0 270.1 L81.7 270.6 L82.4 270.8 L83.0 270.3 L83.7 268.5 L84.3 262.9 L85.0 261.5 L85.7 260.3 L86.3 260.0 L87.0 258.9 L87.6 256.4 L88.3 253.5 L89.0 251.1 L89.6 245.4 L90.3 241.5 L90.9 237.1 L91.6 232.4 L92.3 229.3 L92.9 224.0 L93.6 219.5 L94.2 218.1 L94.9 219.2 L95.6 218.8 L96.2 218.5 L96.9 220.8 L97.5 220.2 L98.2 218.4 L98.9 212.3 L99.5 198.0 L100.2 176.2 L100.8 169.5 L101.5 163.7 L102.2 164.7 L102.8 167.6 L103.5 171.3 L104.1 171.6 L104.8 174.7 L105.5 176.9 L106.1 177.5 L106.8 176.0 L107.4 175.6 L108.1 175.5 L108.8 171.3 L109.4 165.2 L110.1 159.6 L110.7 153.9 L111.4 149.3 L112.1 147.6 L112.7 149.2 L113.4 151.9 L114.0 152.9 L114.7 154.1 L115.4 153.7 L116.0 152.9 L116.7 151.7 L117.3 147.7 L118.0 143.5 L118.7 137.5 L119.3 127.8 L120.0 124.6 L120.6 125.1 L121.3 129.1 L122.0 137.0 L122.6 145.1 L123.3 150.8 L123.9 158.2 L124.6 165.2 L125.3 173.3 L125.9 181.2 L126.6 189.7 L127.2 198.3 L127.9 213.9 L128.6 215.1 L129.2 214.6 L129.9 213.9 L130.5 212.0 L131.2 208.7 L131.9 206.5 L132.5 205.3 L133.2 203.9 L133.8 207.2 L134.5 210.5 L135.2 212.1 L135.8 212.5 L136.5 213.4 L137.1 214.8 L137.8 214.4 L138.5 214.0 L139.1 212.5 L139.8 212.1 L140.4 212.8 L141.1 213.7 L141.8 213.9 L142.4 214.8 L143.1 215.7 L143.7 215.1 L144.4 215.0 L145.1 215.2 L145.7 215.4 L146.4 216.6 L147.0 217.3 L147.7 217.2 L148.4 217.5 L149.0 219.4 L149.7 221.1 L150.3 223.7 L151.0 226.5 L151.7 229.3 L152.3 230.7 L153.0 231.5 L153.6 226.7 L154.3 223.7 L155.0 218.8 L155.6 214.5 L156.3 211.9 L156.9 210.7 L157.6 209.3 L158.3 209.4 L158.9 211.3 L159.6 215.1 L160.2 213.1 L160.9 208.5 L161.6 211.6 L162.2 215.5 L162.9 211.4 L163.5 209.9 L164.2 214.1 L164.9 214.4 L165.5 210.2 L166.2 211.8 L166.8 215.5 L167.5 213.9 L168.2 210.7 L168.8 213.2 L169.5 214.9 L170.1 213.2 L170.8 211.4 L171.5 207.3 L172.1 205.7 L172.8 207.7 L173.4 208.8 L174.1 211.3 L174.8 210.9 L175.4 209.2 L176.1 213.4 L176.7 214.1 L177.4 210.5 L178.1 210.0 L178.7 212.0 L179.4 211.1 L180.0 209.9 L180.7 211.4 L181.4 217.6 L182.0 226.5 L182.7 236.0 L183.3 235.5 L184.0 233.3 L184.7 232.0 L185.3 230.7 L186.0 230.0 L186.6 231.4 L187.3 231.3 L188.0 232.0 L188.6 233.4 L189.3 237.2 L189.9 240.2 L190.6 239.4 L191.3 236.6 L191.9 232.1 L192.6 227.1 L193.2 226.3 L193.9 225.3 L194.6 224.4 L195.2 224.0 L195.9 225.2 L196.5 226.0 L197.2 225.7 L197.9 225.2 L198.5 223.7 L199.2 226.2 L199.8 231.2 L200.5 233.6 L201.2 233.5 L201.8 234.5 L202.5 234.6 L203.1 232.4 L203.8 228.4 L204.5 224.9 L205.1 221.1 L205.8 220.9 L206.4 219.2 L207.1 219.5 L207.8 219.4 L208.4 219.2 L209.1 220.4 L209.7 220.5 L210.4 220.2 L211.1 219.3 L211.7 218.7 L212.4 217.8 L213.0 219.8 L213.7 220.9 L214.4 220.2 L215.0 219.2 L215.7 219.1 L216.3 217.9 L217.0 218.2 L217.7 217.8 L218.3 216.7 L219.0 216.3 L219.6 215.8 L220.3 216.3 L221.0 216.0 L221.6 211.5 L222.3 203.1 L222.9 193.7 L223.6 194.9 L224.3 195.6 L224.9 195.9 L225.6 196.6 L226.2 195.2 L226.9 194.2 L227.6 194.5 L228.2 193.6 L228.9 191.2 L229.5 188.6 L230.2 186.9 L230.9 186.0 L231.5 181.6 L232.2 178.9 L232.8 174.1 L233.5 169.3 L234.2 164.5 L234.8 159.8 L235.5 159.4 L236.1 157.9 L236.8 158.2 L237.5 158.7 L238.1 156.7 L238.8 155.1 L239.4 153.0 L240.1 149.5 L240.8 144.4 L241.4 136.3 L242.1 128.2 L242.7 122.8 L243.4 125.5 L244.1 129.5 L244.7 129.1 L245.4 130.1 L246.0 130.9 L246.7 130.7 L247.4 131.3 L248.0 130.6 L248.7 129.6 L249.3 128.9 L250.0 129.6 L250.7 129.7 L251.3 129.5 L252.0 129.2 L252.6 123.3 L253.3 118.8 L254.0 113.0 L254.6 106.1 L255.3 100.9 L255.9 100.6 L256.6 99.0 L257.3 98.4 L257.9 98.4 L258.6 100.7 L259.2 101.4 L259.9 101.3 L260.6 101.6 L261.2 101.9 L261.9 102.6 L262.5 101.8 L263.2 101.2 L263.9 101.4 L264.5 101.9 L265.2 100.5 L265.8 100.2 L266.5 98.0 L267.2 91.6 L267.8 87.2 L268.5 83.5 L269.1 83.2 L269.8 84.9 L270.5 88.0 L271.1 87.8 L271.8 89.0 L272.4 88.4 L273.1 88.8 L273.8 89.9 L274.4 88.3 L275.1 92.2 L275.7 96.6 L276.4 99.5 L277.1 103.5 L277.7 106.7 L278.4 110.0 L279.0 114.2 L279.7 116.9 L280.4 118.2 L281.0 122.6 L281.7 123.6 L282.4 123.8 L283.0 123.0 L283.7 124.9 L284.3 125.0 L285.0 129.7 L285.7 134.0 L286.3 138.0 L287.0 141.5 L287.6 145.4 L288.3 148.4 L289.0 153.0 L289.6 156.2 L290.3 157.9 L290.9 159.7 L291.6 159.7 L292.3 158.9 L292.9 157.0 L293.6 156.2 L294.2 159.0 L294.9 163.1 L295.6 165.9 L296.2 169.0 L296.9 170.7 L297.5 172.4 L298.2 172.7 L298.9 172.7 L299.5 172.7 L300.2 173.8 L300.8 173.3 L301.5 173.6 L302.2 173.1 L302.8 172.8 L303.5 173.6 L304.1 173.7 L304.8 173.7 L305.5 174.1 L306.1 173.6 L306.8 172.4 L307.4 171.5 L308.1 170.2 L308.8 170.6 L309.4 170.3 L310.1 171.8 L310.7 176.7 L311.4 180.1 L312.1 183.4 L312.7 185.8 L313.4 187.2 L314.0 189.2 L314.7 188.4 L315.4 186.5 L316.0 185.4 L316.7 182.9 L317.3 181.6 L318.0 179.1 L318.7 178.1 L319.3 174.9 L320.0 174.9 L320.6 175.0 L321.3 174.6 L322.0 175.2 L322.6 175.4 L323.3 175.6 L323.9 175.5 L324.6 176.3 L325.3 175.9 L325.9 176.2 L326.6 176.0 L327.2 175.6 L327.9 175.8 L328.6 176.0 L329.2 177.5 L329.9 178.9 L330.5 177.7 L331.2 177.4 L331.9 177.9 L332.5 179.4 L333.2 182.2 L333.8 184.4 L334.5 187.3 L335.2 188.6 L335.8 189.7 L336.5 189.2 L337.1 191.1 L337.8 192.4 L338.5 194.1 L339.1 195.1 L339.8 195.7 L340.4 195.6 L341.1 196.5 L341.8 198.4 L342.4 198.8 L343.1 199.6 L343.7 202.0 L344.4 204.6 L345.1 205.5 L345.7 207.0 L346.4 208.4 L347.0 209.9 L347.7 220.9 L348.4 222.5 L349.0 223.5 L349.7 224.0 L350.3 223.8 L351.0 224.3 L351.7 223.2 L352.3 222.1 L353.0 223.3 L353.6 222.9 L354.3 225.4 L355.0 227.2 L355.6 227.5 L356.3 227.7 L356.9 228.1 L357.6 230.7 L358.3 231.9 L358.9 235.8 L359.6 237.7 L360.2 242.7 L360.9 245.3 L361.6 250.2 L362.2 255.8 L362.9 259.6 L363.5 263.0 L364.2 265.7 L364.9 264.3 L365.5 263.3 L366.2 261.2 L366.8 257.5 L367.5 255.6 L368.2 254.3 L368.8 253.8 L369.5 251.1 L370.1 248.1 L370.8 244.5 L371.5 243.6 L372.1 245.8 L372.8 245.1 L373.4 244.9 L374.1 243.0 L374.8 241.5 L375.4 237.8 L376.1 229.9 L376.7 220.9 L377.4 214.3 L378.1 211.6 L378.7 208.1 L379.4 204.7 L380.0 209.5 L380.7 214.9 L381.4 220.4 L382.0 225.3 L382.7 229.7 L383.3 231.7 L384.0 227.8 L384.7 224.7 L385.3 222.1 L386.0 222.1 L386.6 221.0 L387.3 220.1 L388.0 220.5 L388.6 223.5 L389.3 225.8 L389.9 226.3 L390.6 226.7 L391.3 225.8 L391.9 217.5 L392.6 205.6 L393.2 203.3 L393.9 202.5 L394.6 201.3 L395.2 206.1 L395.9 209.6 L396.5 209.6 L397.2 210.6 L397.9 210.7 L398.5 209.6 L399.2 212.5 L399.8 214.5 L400.5 218.7 L401.2 220.9 L401.8 224.1 L402.5 225.8 L403.1 229.4 L403.8 234.9 L404.5 238.4 L405.1 241.4 L405.8 245.6 L406.4 249.3 L407.1 253.1 L407.8 258.9 L408.4 263.9 L409.1 268.3 L409.7 266.9 L410.4 261.8 L411.1 256.2 L411.7 253.3 L412.4 251.6 L413.0 253.4 L413.7 255.1 L414.4 256.9 L415.0 256.9 L415.7 256.7 L416.3 256.6 L417.0 255.9 L417.7 252.6 L418.3 250.0 L419.0 246.5 L419.6 245.8 L420.3 243.6 L421.0 241.0 L421.6 239.3 L422.3 238.8 L422.9 239.0 L423.6 239.0 L424.3 240.3 L424.9 242.2 L425.6 245.2 L426.2 246.7 L426.9 244.6 L427.6 239.4 L428.2 233.5 L428.9 229.6 L429.5 225.4 L430.2 220.6 L430.9 221.0 L431.5 221.5 L432.2 221.9 L432.8 222.5 L433.5 222.7 L434.2 222.0 L434.8 221.6 L435.5 219.5 L436.1 214.9 L436.8 212.5 L437.5 210.9 L438.1 210.7 L438.8 209.8 L439.4 210.3 L440.1 210.4 L440.8 209.1 L441.4 208.0 L442.1 206.8 L442.7 206.2 L443.4 203.7 L444.1 202.5 L444.7 198.1 L445.4 193.2 L446.0 195.5 L446.7 197.5 L447.4 199.9 L448.0 199.1 L448.7 197.8 L449.3 193.9 L450.0 193.5 L450.7 194.0 L451.3 192.8 L452.0 189.7 L452.6 188.6 L453.3 186.6 L454.0 184.5 L454.6 182.7 L455.3 179.3 L455.9 178.0 L456.6 176.6 L457.3 175.3 L457.9 174.8 L458.6 172.0 L459.2 169.0 L459.9 164.7 L460.6 160.9 L461.2 155.7 L461.9 151.8 L462.5 149.2 L463.2 151.2 L463.9 153.4 L464.5 153.6 L465.2 150.4 L465.8 148.8 L466.5 148.5 L467.2 149.1 L467.8 148.2 L468.5 151.0 L469.1 154.7 L469.8 156.6 L470.5 158.8 L471.1 159.3 L471.8 159.3 L472.4 160.7 L473.1 160.6 L473.8 160.4 L474.4 161.9 L475.1 163.8 L475.7 165.1 L476.4 167.1 L477.1 168.7 L477.7 170.5 L478.4 171.9 L479.0 174.1 L479.7 175.4 L480.4 176.7 L481.0 180.2 L481.7 181.8 L482.3 184.6 L483.0 185.9 L483.7 186.5 L484.3 187.5 L485.0 186.9 L485.6 187.6 L486.3 187.2 L487.0 187.1 L487.6 188.0 L488.3 188.2 L488.9 189.0 L489.6 190.1 L490.3 191.5 L490.9 192.3 L491.6 193.5 L492.2 193.2 L492.9 193.3 L493.6 194.3 L494.2 195.7 L494.9 196.3 L495.5 202.6 L496.2 210.7 L496.9 218.7 L497.5 219.4 L498.2 215.0 L498.8 211.7 L499.5 210.4 L500.2 208.7 L500.8 207.5 L501.5 211.1 L502.1 213.0 L502.8 214.7 L503.5 216.3 L504.1 216.9 L504.8 218.4 L505.4 220.2 L506.1 222.0 L506.8 223.8 L507.4 223.2 L508.1 221.0 L508.7 218.6 L509.4 219.4 L510.1 221.7 L510.7 223.4 L511.4 221.9 L512.0 219.3 L512.7 217.4 L513.4 214.5 L514.0 212.4 L514.7 212.0 L515.3 214.2 L516.0 217.7 L516.7 217.9 L517.3 218.2 L518.0 218.5 L518.6 219.9 L519.3 221.2 L520.0 224.2 L520.6 227.9 L521.3 229.6 L521.9 229.1 L522.6 229.3 L523.3 229.3 L523.9 230.8 L524.6 232.7 L525.2 235.0 L525.9 236.7 L526.6 239.6 L527.2 242.6 L527.9 244.1 L528.5 247.4 L529.2 251.6 L529.9 254.5 L530.5 252.1 L531.2 250.7 L531.8 249.3 L532.5 248.4 L533.2 245.5 L533.8 244.0 L534.5 244.5 L535.1 244.0 L535.8 242.3 L536.5 240.5 L537.1 240.5 L537.8 241.3 L538.4 242.6 L539.1 243.8 L539.8 243.7 L540.4 244.6 L541.1 245.7 L541.7 246.0 L542.4 247.2 L543.1 247.5 L543.7 247.9 L544.4 247.6 L545.0 246.6 L545.7 245.4 L546.4 244.9 L547.0 244.4 L547.7 242.2 L548.3 241.9 L549.0 242.0 L549.7 241.9 L550.3 244.2 L551.0 246.5 L551.6 249.2 L552.3 251.3 L553.0 252.4 L553.6 254.1 L554.3 256.1 L554.9 259.7 L555.6 260.2 L556.3 263.5 L556.9 266.5 L557.6 270.5 L558.2 274.4 L558.9 276.3 L559.6 279.9 L560.2 283.2 L560.9 284.2 L561.5 288.0 L562.2 287.5 L562.9 285.1 L563.5 284.7 L564.2 283.9 L564.8 285.2 L565.5 286.2 L566.2 287.2 L566.8 291.1 L567.5 294.8 L568.1 296.7 L568.8 299.9 L569.5 298.7 L570.1 296.3 L570.8 294.7 L571.4 293.5 L572.1 293.2 L572.8 292.5 L573.4 293.0 L574.1 293.2 L574.7 292.8 L575.4 293.9 L576.1 294.1 L576.7 295.4 L577.4 294.7 L578.0 294.2 L578.7 293.4 L579.4 293.6 L580.0 293.4 L580.7 293.3 L581.3 294.6 L582.0 294.2 L582.7 292.6 L583.3 292.1 L584.0 294.3 L584.6 296.6 L585.3 298.8 L586.0 299.6 L586.6 300.9 L587.3 302.4 L587.9 303.4 L588.6 304.1 L589.3 305.7 L589.9 305.6 L590.6 303.6 L591.2 301.0 L591.9 300.5 L592.6 299.8 L593.2 301.8 L593.9 301.1 L594.5 298.1 L595.2 293.6 L595.9 291.1 L596.5 290.5 L597.2 288.5 L597.8 287.1 L598.5 288.0 L599.2 287.2 L599.8 287.6 L600.5 285.4 L601.1 281.7 L601.8 279.3 L602.5 276.3 L603.1 272.8 L603.8 272.2 L604.4 275.8 L605.1 278.3 L605.8 281.8 L606.4 284.3 L607.1 286.4 L607.7 287.0 L608.4 287.1 L609.1 288.5 L609.7 289.0 L610.4 290.2 L611.0 291.1 L611.7 293.1 L612.4 294.9 L613.0 294.7 L613.7 295.2 L614.3 295.7 L615.0 295.9 L615.7 298.2 L616.3 300.8 L617.0 302.9 L617.6 304.1 L618.3 303.4 L619.0 301.1 L619.6 300.0 L620.3 298.6 L620.9 301.0 L621.6 301.0 L622.3 301.3 L622.9 299.4 L623.6 298.1 L624.2 295.4 L624.9 296.5 L625.6 297.6 L626.2 297.8 L626.9 297.2 L627.5 297.7 L628.2 298.1 L628.9 297.4 L629.5 297.6 L630.2 296.3 L630.8 294.2 L631.5 292.5 L632.2 289.2 L632.8 288.4 L633.5 287.6 L634.1 285.7 L634.8 284.7 L635.5 284.7 L636.1 285.5 L636.8 285.7 L637.4 285.9 L638.1 285.2 L638.8 285.8 L639.4 286.6 L640.1 286.1 L640.7 285.8 L641.4 283.9 L642.1 284.7 L642.7 285.6 L643.4 284.8 L644.0 285.7 L644.7 284.9 L645.4 283.8 L646.0 284.9 L646.7 286.0 L647.3 285.0 L648.0 285.3 L648.7 286.4 L649.3 289.0 L650.0 291.9 L650.6 292.5 L651.3 292.8 L652.0 293.5 L652.6 293.2 L653.3 292.2 L653.9 291.7 L654.6 292.8 L655.3 294.3 L655.9 294.2 L656.6 294.6 L657.2 295.2 L657.9 296.1 L658.6 298.4 L659.2 299.3 L659.9 300.8 L660.5 302.2 L661.2 304.4 L661.9 305.7 L662.5 306.8 L663.2 307.9 L663.8 308.8 L664.5 310.9 L665.2 312.1 L665.8 310.0 L666.5 310.3 L667.1 308.9 L667.8 307.9 L668.5 307.3 L669.1 306.5 L669.8 305.9 L670.4 305.1 L671.1 306.1 L671.8 304.2 L672.4 303.3 L673.1 304.3 L673.7 306.0 L674.4 306.6 L675.1 308.6 L675.7 311.0 L676.4 314.8 L677.0 317.3 L677.7 319.1 L678.4 321.0 L679.0 324.2 L679.7 325.7 L680.3 326.7 L681.0 327.8 L681.7 328.4 L682.3 327.9 L683.0 325.7 L683.6 324.2 L684.3 323.7 L685.0 322.6 L685.6 322.8 L686.3 322.9 L686.9 324.3 L687.6 325.6 L688.3 327.6 L688.9 330.8 L689.6 331.8 L690.2 332.5 L690.9 332.6 L691.6 334.1 L692.2 335.5 L692.9 334.8 L693.5 334.2 L694.2 334.8 L694.8 336.6 L695.5 337.8 L696.2 339.4 L696.8 339.2 L697.5 341.2 L698.1 343.7 L698.8 344.6 L699.5 345.0 L700.1 345.7 L700.8 344.2 L701.4 343.4 L702.1 343.2 L702.8 342.6 L703.4 342.7 L704.1 340.6 L704.7 338.4 L705.4 338.8 L706.1 338.9 L706.7 338.7 L707.4 338.0 L708.0 336.8 L708.7 335.6 L709.4 333.0 L710.0 331.7 L710.7 330.6 L711.3 331.9 L712.0 331.5 L712.7 330.8 L713.3 329.2 L714.0 327.3 L714.6 325.5 L715.3 323.1 L716.0 324.4 L716.6 326.2 L717.3 327.4 L717.9 327.1 L718.6 325.6 L719.3 324.7 L719.9 324.8 L720.6 322.8 L721.2 320.9 L721.9 319.2 L722.6 317.7 L723.2 320.1 L723.9 322.7 L724.5 324.1 L725.2 324.7 L725.9 325.2 L726.5 325.4 L727.2 322.9 L727.8 322.4 L728.5 323.9 L729.2 322.4 L729.8 320.7 L730.5 319.3 L731.1 319.6 L731.8 319.2 L732.5 320.0 L733.1 321.5 L733.8 322.0 L734.4 322.5 L735.1 322.6 L735.8 322.7 L736.4 324.7 L737.1 324.8 L737.7 326.7 L738.4 328.5 L739.1 330.4 L739.7 330.8 L740.4 330.7 L741.0 331.1 L741.7 332.5 L742.4 333.1 L743.0 333.6 L743.7 333.7 L744.3 334.6 L745.0 333.2 L745.7 332.7 L746.3 334.4 L747.0 334.9 L747.6 335.6 L748.3 334.1 L749.0 333.7 L749.6 333.4 L750.3 333.0 L750.9 333.7 L751.6 332.8 L752.3 332.5 L752.9 331.3 L753.6 330.6 L754.2 330.3 L754.9 330.1 L755.6 327.3 L756.2 321.0 L756.9 319.4 L757.5 319.9 L758.2 319.4 L758.9 320.7 L759.5 320.3 L760.2 321.6 L760.8 323.5 L761.5 328.7 L762.2 333.1 L762.8 334.0 L763.5 333.8 L764.1 332.7 L764.8 333.2 L765.5 333.8 L766.1 333.9 L766.8 334.2 L767.4 334.7 L768.1 334.3 L768.8 333.4 L769.4 334.2 L770.1 333.6 L770.7 334.8 L771.4 336.4 L772.1 336.0 L772.7 336.0 L773.4 336.3 L774.0 337.2 L774.7 337.7 L775.4 337.7 L776.0 336.2 L776.7 335.8 L777.3 335.5 L778.0 335.0 L778.7 333.4 L779.3 332.6 L780.0 329.5 L780.6 327.4 L781.3 327.3 L782.0 330.1 L782.6 331.5 L783.3 335.9 L783.9 342.2 L784.6 345.8 L785.3 345.9 L785.9 344.0 L786.6 343.0 L787.2 343.0 L787.9 343.5 L788.6 343.8 L789.2 343.6 L789.9 342.9 L790.5 341.1 L791.2 341.1 L791.9 340.7 L792.5 339.5 L793.2 340.2 L793.8 339.6 L794.5 339.9 L795.2 341.2 L795.8 342.3 L796.5 343.0 L797.1 342.9 L797.8 343.6 L798.5 342.8 L799.1 339.8 L799.8 336.0 L800.4 331.3 L801.1 326.8 L801.8 327.0 L802.4 327.4 L803.1 325.9 L803.7 326.0 L804.4 324.3 L805.1 322.9 L805.7 320.1 L806.4 314.2 L807.0 309.0 L807.7 308.8 L808.4 309.1 L809.0 309.8 L809.7 310.2 L810.3 311.3 L811.0 309.9 L811.7 309.0 L812.3 308.2 L813.0 307.8 L813.6 306.0 L814.3 303.9 L815.0 302.8 L815.6 301.7 L816.3 300.7 L816.9 295.9 L817.6 286.1 L818.3 276.1 L818.9 266.0 L819.6 263.4 L820.2 271.2 L820.9 276.7 L821.6 282.8 L822.2 281.6 L822.9 277.1 L823.5 275.2 L824.2 273.2 L824.9 267.7 L825.5 260.7 L826.2 258.9 L826.8 259.4 L827.5 260.4 L828.2 262.9 L828.8 264.9 L829.5 267.2 L830.1 267.6 L830.8 268.5 L831.5 270.8 L832.1 271.0 L832.8 271.4 L833.4 269.6 L834.1 270.7 L834.8 271.4 L835.4 273.2 L836.1 273.7 L836.7 275.2 L837.4 278.2 L838.1 280.6 L838.7 284.1 L839.4 287.2 L840.0 290.3 L840.7 291.9 L841.4 292.4 L842.0 293.1 L842.7 293.2 L843.3 295.7 L844.0 299.5 L844.7 303.7 L845.3 306.0 L846.0 308.1 L846.6 310.4 L847.3 313.1 L848.0 314.5 L848.6 316.6 L849.3 317.5 L849.9 318.0 L850.6 319.6 L851.3 324.2 L851.9 327.5 L852.6 328.0 L853.2 328.9 L853.9 326.1 L854.6 325.1 L855.2 323.9 L855.9 322.2 L856.5 319.2 L857.2 317.8 L857.9 315.6 L858.5 314.1 L859.2 309.1 L859.8 304.7 L860.5 299.8 L861.2 292.1 L861.8 292.9 L862.5 296.8 L863.1 298.5 L863.8 290.0 L864.5 280.8 L865.1 269.6 L865.8 259.5 L866.4 246.2 L867.1 237.2 L867.8 237.2 L868.4 242.2 L869.1 254.3 L869.7 268.7 L870.4 285.6 L871.1 295.2 L871.7 299.7 L872.4 302.0 L873.0 304.1 L873.7 306.1 L874.4 307.1 L875.0 309.1 L875.7 310.0 L876.3 312.4 L877.0 312.3 L877.7 314.1 L878.3 315.5 L879.0 317.0 L879.6 318.5 L880.3 320.6 L881.0 323.6 L881.6 328.1 L882.3 330.2 L882.9 333.6 L883.6 334.1 L884.3 336.1 L884.9 337.6 L885.6 337.6 L886.2 337.8 L886.9 337.5 L887.6 338.1 L888.2 338.8 L888.9 339.2 L889.5 340.3 L890.2 341.0 L890.9 342.5 L891.5 342.5 L892.2 342.5 L892.8 342.9 L893.5 343.4 L894.2 343.0 L894.8 344.5 L895.5 343.9 L896.1 343.0 L896.8 341.2 L897.5 340.9 L898.1 341.0 L898.8 340.6 L899.4 340.5 L900.1 339.5 L900.8 338.6 L901.4 337.8 L902.1 335.6 L902.7 334.6 L903.4 333.6 L904.1 333.5 L904.7 331.1 L905.4 332.6 L906.0 333.9 L906.7 335.0 L907.4 336.6 L908.0 337.5 L908.7 339.9 L909.3 341.4 L910.0 342.1 L910.7 343.2 L911.3 342.8 L912.0 343.5 L912.6 343.2 L913.3 342.7 L914.0 342.1 L914.6 340.8 L915.3 341.8 L915.9 343.1 L916.6 345.4 L917.3 346.9 L917.9 346.6 L918.6 344.9 L919.2 343.4 L919.9 343.4 L920.6 344.1 L921.2 343.5 L921.9 344.7 L922.5 342.4 L923.2 340.7 L923.9 338.3 L924.5 338.0 L925.2 337.9 L925.8 337.8 L926.5 336.1 L927.2 337.3 L927.8 340.2 L928.5 341.1 L929.1 342.3 L929.8 341.7 L930.5 340.5 L931.1 341.2 L931.8 341.6 L932.4 339.9 L933.1 339.2 L933.8 339.5 L934.4 338.6 L935.1 337.9 L935.7 338.0 L936.4 338.0 L937.1 336.3 L937.7 334.8 L938.4 335.3 L939.0 334.0 L939.7 332.8 L940.4 330.4 L941.0 330.2 L941.7 327.3 L942.3 326.8 L943.0 326.0 L943.7 325.7 L944.3 325.2 L945.0 325.1 L945.6 325.6 L946.3 326.5 L947.0 325.4 L947.6 326.1 L948.3 325.9 L948.9 326.4 L949.6 326.4 L950.3 326.3 L950.9 326.2 L951.6 326.6 L952.2 326.5 L952.9 325.6 L953.6 324.2 L954.2 323.9 L954.9 325.0 L955.5 324.3 L956.2 324.3 L956.9 326.6 L957.5 326.8 L958.2 327.1 L958.8 327.9 L959.5 328.7 L960.2 328.6 L960.8 329.0 L961.5 327.7 L962.1 328.5 L962.8 329.3 L963.5 328.4 L964.1 329.9 L964.8 332.0 L965.4 330.3 L966.1 330.9 L966.8 333.4 L967.4 335.3 L968.1 336.0 L968.7 335.6 L969.4 335.5 L970.1 336.1 L970.7 335.5 L971.4 334.4 L972.0 334.6 L972.7 334.0 L973.4 335.5 L974.0 334.5 L974.7 334.7 L975.3 334.5 L976.0 333.4 L976.7 333.2 L977.3 331.9 L978.0 332.6 L978.6 332.1 L979.3 331.5 L980.0 330.6 L980.6 332.2 L981.3 332.8 L981.9 332.1 L982.6 333.1 L983.3 334.6 L983.9 336.0 L984.6 336.8 L985.2 335.8 L985.9 338.0 L986.6 338.5 L987.2 339.4 L987.9 337.2 L988.5 336.8 L989.2 336.7 L989.9 336.3 L990.5 334.2 L991.2 333.0 L991.8 333.3 L992.5 331.5 L993.2 331.2 L993.8 330.2 L994.5 328.2 L995.1 328.4 L995.8 328.5 L996.5 329.1 L997.1 329.3 L997.8 330.0 L998.4 328.4 L999.1 328.3 L999.8 329.2 L1000.4 328.9 L1001.1 329.1 L1001.7 328.1 L1002.4 327.9 L1003.1 326.6 L1003.7 326.7 L1004.4 326.6 L1005.0 326.4 L1005.7 327.2 L1006.4 328.2 L1007.0 329.1 L1007.7 330.6 L1008.3 331.0 L1009.0 328.9 L1009.7 328.9 L1010.3 329.6 L1011.0 328.3 L1011.6 327.7 L1012.3 329.2 L1013.0 328.1 L1013.6 328.3 L1014.3 328.3 L1014.9 326.9 L1015.6 326.7 L1016.3 325.3 L1016.9 325.2 L1017.6 325.9 L1018.2 326.3 L1018.9 326.3 L1019.6 325.7 L1020.2 325.3 L1020.9 325.2 L1021.5 324.7 L1022.2 325.6 L1022.9 326.1 L1023.5 326.6 L1024.2 326.0 L1024.8 327.2 L1025.5 325.8 L1026.2 324.7 L1026.8 324.0 L1027.5 323.2 L1028.1 324.2 L1028.8 323.8 L1029.5 323.4 L1030.1 323.0 L1030.8 322.8 L1031.4 323.7 L1032.1 324.6 L1032.8 323.8 L1033.4 324.7 L1034.1 325.1 L1034.7 325.2 L1035.4 326.1 L1036.1 325.9 L1036.7 325.2 L1037.4 323.3 L1038.0 320.4 L1038.7 317.8 L1039.4 315.8 L1040.0 315.7 L1040.7 316.2 L1041.3 316.6 L1042.0 318.4 L1042.7 319.0 L1043.3 319.8 L1044.0 320.2 L1044.6 319.6 L1045.3 319.6 L1046.0 318.4 L1046.6 317.1 L1047.3 317.7 L1047.9 317.8 L1048.6 318.0 L1049.3 318.9 L1049.9 317.8 L1050.6 317.8 L1051.2 316.1 L1051.9 315.7 L1052.6 316.8 L1053.2 316.3 L1053.9 316.0 L1054.5 316.7 L1055.2 318.9 L1055.9 320.1 L1056.5 320.5 L1057.2 321.5 L1057.8 322.1 L1058.5 322.0 L1059.2 321.6 L1059.8 322.1 L1060.5 322.0 L1061.1 322.7 L1061.8 321.9 L1062.5 322.2 L1063.1 321.4 L1063.8 322.0 L1064.4 322.4 L1065.1 321.5 L1065.8 323.1 L1066.4 322.9 L1067.1 321.9 L1067.7 320.6 L1068.4 320.5 L1069.1 320.5 L1069.7 319.8 L1070.4 319.0 L1071.0 319.1 L1071.7 318.8 L1072.4 318.9 L1073.0 318.8 L1073.7 320.4 L1074.3 319.5 L1075.0 322.5 L1075.7 323.2 L1076.3 321.7 L1077.0 316.0 L1077.6 312.2 L1078.3 306.6 L1079.0 300.9 L1079.6 296.6 L1080.3 293.8 L1080.9 291.3 L1081.6 288.4 L1082.3 293.0 L1082.9 295.4 L1083.6 297.1 L1084.2 297.8 L1084.9 297.2 L1085.6 297.2 L1086.2 297.9 L1086.9 297.8 L1087.5 298.2 L1088.2 299.4 L1088.9 301.1 L1089.5 301.9 L1090.2 304.7 L1090.8 306.1 L1091.5 308.4 L1092.2 309.2 L1092.8 309.9 L1093.5 309.6 L1094.1 310.3 L1094.8 312.1 L1095.5 316.4 L1095.8 318.2" fill="none" stroke="#0aa8ee" stroke-width="2.9" stroke-linecap="round" stroke-linejoin="round" stroke-dasharray="0.01 6"/>
<path d="M68.5 275.4 L69.2 275.7 L69.8 274.2 L70.5 274.3 L71.1 273.3 L71.8 272.1 L72.5 272.6 L73.1 271.7 L73.8 270.7 L74.4 272.0 L75.1 273.7 L75.8 274.5 L76.4 275.8 L77.1 275.8 L77.7 276.5 L78.4 275.2 L79.1 273.0 L79.7 270.8 L80.4 268.7 L81.0 268.3 L81.7 268.8 L82.4 269.1 L83.0 269.6 L83.7 266.8 L84.3 262.8 L85.0 260.6 L85.7 261.3 L86.3 260.6 L87.0 259.4 L87.6 255.3 L88.3 252.6 L89.0 248.7 L89.6 245.5 L90.3 243.1 L90.9 237.7 L91.6 234.8 L92.3 231.4 L92.9 227.4 L93.6 224.0 L94.2 225.1 L94.9 227.1 L95.6 228.0 L96.2 228.4 L96.9 227.8 L97.5 225.9 L98.2 224.8 L98.9 221.7 L99.5 218.2 L100.2 212.3 L100.8 200.0 L101.5 183.8 L102.2 175.1 L102.8 172.2 L103.5 170.2 L104.1 175.0 L104.8 179.5 L105.5 182.7 L106.1 179.5 L106.8 178.9 L107.4 176.6 L108.1 174.9 L108.8 170.9 L109.4 165.0 L110.1 157.5 L110.7 151.8 L111.4 147.9 L112.1 146.8 L112.7 146.5 L113.4 149.7 L114.0 151.6 L114.7 150.9 L115.4 150.8 L116.0 150.2 L116.7 149.8 L117.3 145.9 L118.0 141.7 L118.7 134.5 L119.3 123.0 L120.0 120.5 L120.6 120.2 L121.3 125.9 L122.0 132.1 L122.6 136.8 L123.3 144.0 L123.9 151.0 L124.6 157.6 L125.3 164.3 L125.9 171.1 L126.6 178.3 L127.2 186.2 L127.9 199.0 L128.6 195.2 L129.2 192.6 L129.9 188.7 L130.5 183.3 L131.2 181.1 L131.9 179.3 L132.5 176.3 L133.2 175.5 L133.8 178.9 L134.5 181.3 L135.2 182.8 L135.8 183.3 L136.5 184.5 L137.1 187.1 L137.8 187.3 L138.5 186.0 L139.1 186.4 L139.8 186.9 L140.4 189.5 L141.1 192.4 L141.8 194.0 L142.4 195.2 L143.1 195.9 L143.7 195.7 L144.4 197.1 L145.1 198.9 L145.7 200.2 L146.4 201.2 L147.0 202.2 L147.7 203.3 L148.4 204.5 L149.0 206.1 L149.7 207.4 L150.3 209.7 L151.0 212.1 L151.7 216.1 L152.3 219.8 L153.0 219.2 L153.6 214.3 L154.3 211.4 L155.0 209.3 L155.6 205.5 L156.3 203.1 L156.9 202.5 L157.6 202.8 L158.3 201.7 L158.9 204.3 L159.6 207.8 L160.2 207.3 L160.9 203.5 L161.6 206.9 L162.2 210.0 L162.9 205.6 L163.5 203.5 L164.2 208.7 L164.9 210.1 L165.5 205.8 L166.2 206.9 L166.8 211.3 L167.5 209.5 L168.2 205.8 L168.8 207.8 L169.5 210.4 L170.1 208.3 L170.8 205.4 L171.5 204.2 L172.1 202.4 L172.8 201.5 L173.4 205.1 L174.1 208.2 L174.8 206.5 L175.4 205.1 L176.1 208.8 L176.7 210.3 L177.4 207.7 L178.1 207.8 L178.7 208.9 L179.4 209.2 L180.0 208.0 L180.7 209.8 L181.4 215.0 L182.0 224.8 L182.7 233.6 L183.3 234.0 L184.0 233.0 L184.7 231.7 L185.3 229.3 L186.0 228.0 L186.6 229.5 L187.3 229.4 L188.0 230.6 L188.6 232.6 L189.3 234.8 L189.9 239.2 L190.6 236.5 L191.3 234.0 L191.9 228.1 L192.6 222.2 L193.2 222.0 L193.9 221.8 L194.6 220.7 L195.2 221.0 L195.9 220.1 L196.5 220.4 L197.2 219.2 L197.9 218.6 L198.5 218.9 L199.2 223.3 L199.8 228.5 L200.5 230.6 L201.2 230.4 L201.8 230.7 L202.5 230.6 L203.1 228.2 L203.8 223.4 L204.5 220.9 L205.1 216.0 L205.8 216.1 L206.4 214.8 L207.1 215.6 L207.8 215.4 L208.4 216.1 L209.1 217.2 L209.7 216.3 L210.4 214.0 L211.1 211.1 L211.7 211.7 L212.4 211.8 L213.0 212.2 L213.7 212.4 L214.4 213.1 L215.0 210.6 L215.7 210.3 L216.3 210.1 L217.0 210.6 L217.7 209.2 L218.3 209.1 L219.0 209.5 L219.6 210.2 L220.3 210.7 L221.0 209.1 L221.6 206.2 L222.3 199.3 L222.9 188.7 L223.6 189.0 L224.3 191.1 L224.9 192.7 L225.6 193.2 L226.2 193.5 L226.9 191.9 L227.6 191.6 L228.2 190.3 L228.9 188.3 L229.5 186.8 L230.2 185.0 L230.9 182.7 L231.5 178.7 L232.2 176.1 L232.8 171.5 L233.5 167.5 L234.2 162.3 L234.8 157.7 L235.5 157.6 L236.1 156.2 L236.8 156.5 L237.5 155.2 L238.1 153.2 L238.8 151.6 L239.4 150.4 L240.1 149.2 L240.8 142.1 L241.4 133.1 L242.1 123.6 L242.7 118.5 L243.4 121.5 L244.1 123.3 L244.7 125.7 L245.4 127.4 L246.0 128.0 L246.7 128.6 L247.4 127.7 L248.0 127.4 L248.7 128.2 L249.3 127.3 L250.0 128.0 L250.7 127.4 L251.3 128.6 L252.0 127.9 L252.6 124.2 L253.3 119.2 L254.0 114.2 L254.6 110.0 L255.3 106.9 L255.9 105.0 L256.6 105.4 L257.3 106.3 L257.9 107.2 L258.6 109.5 L259.2 109.7 L259.9 110.4 L260.6 111.9 L261.2 113.5 L261.9 114.8 L262.5 114.2 L263.2 112.8 L263.9 112.7 L264.5 111.0 L265.2 110.4 L265.8 108.4 L266.5 107.5 L267.2 103.5 L267.8 99.4 L268.5 96.1 L269.1 94.5 L269.8 95.7 L270.5 98.0 L271.1 97.7 L271.8 97.5 L272.4 96.5 L273.1 96.4 L273.8 94.9 L274.4 95.2 L275.1 100.1 L275.7 103.4 L276.4 106.9 L277.1 115.8 L277.7 118.7 L278.4 122.2 L279.0 126.2 L279.7 129.1 L280.4 129.5 L281.0 129.8 L281.7 130.0 L282.4 131.3 L283.0 133.1 L283.7 137.7 L284.3 140.6 L285.0 139.9 L285.7 140.1 L286.3 141.0 L287.0 142.3 L287.6 144.2 L288.3 148.0 L289.0 151.8 L289.6 152.5 L290.3 153.0 L290.9 154.9 L291.6 155.2 L292.3 155.0 L292.9 154.8 L293.6 154.7 L294.2 157.4 L294.9 159.0 L295.6 161.8 L296.2 164.4 L296.9 167.1 L297.5 167.3 L298.2 167.8 L298.9 168.1 L299.5 168.1 L300.2 169.1 L300.8 169.4 L301.5 168.9 L302.2 169.7 L302.8 170.0 L303.5 170.3 L304.1 169.2 L304.8 167.4 L305.5 167.5 L306.1 167.4 L306.8 167.9 L307.4 168.1 L308.1 168.9 L308.8 168.4 L309.4 168.7 L310.1 168.7 L310.7 170.9 L311.4 174.9 L312.1 179.2 L312.7 179.3 L313.4 181.7 L314.0 182.6 L314.7 181.8 L315.4 181.0 L316.0 180.3 L316.7 178.6 L317.3 176.7 L318.0 174.9 L318.7 173.3 L319.3 170.4 L320.0 171.4 L320.6 172.5 L321.3 173.8 L322.0 172.4 L322.6 173.1 L323.3 172.2 L323.9 173.3 L324.6 174.6 L325.3 173.4 L325.9 171.9 L326.6 172.1 L327.2 172.5 L327.9 172.4 L328.6 173.6 L329.2 173.1 L329.9 173.5 L330.5 173.6 L331.2 173.5 L331.9 174.6 L332.5 175.5 L333.2 176.3 L333.8 179.4 L334.5 180.0 L335.2 180.8 L335.8 181.9 L336.5 182.8 L337.1 185.5 L337.8 188.0 L338.5 187.9 L339.1 189.4 L339.8 191.5 L340.4 191.4 L341.1 192.5 L341.8 192.7 L342.4 193.7 L343.1 196.7 L343.7 199.0 L344.4 200.2 L345.1 201.8 L345.7 201.5 L346.4 201.8 L347.0 203.6 L347.7 213.4 L348.4 214.9 L349.0 215.8 L349.7 216.6 L350.3 218.1 L351.0 218.7 L351.7 218.2 L352.3 217.7 L353.0 217.5 L353.6 217.6 L354.3 219.6 L355.0 221.6 L355.6 223.2 L356.3 224.0 L356.9 225.4 L357.6 228.0 L358.3 229.6 L358.9 231.7 L359.6 233.3 L360.2 237.6 L360.9 243.4 L361.6 247.2 L362.2 250.1 L362.9 254.1 L363.5 259.5 L364.2 263.4 L364.9 261.0 L365.5 258.6 L366.2 256.5 L366.8 253.7 L367.5 251.5 L368.2 249.1 L368.8 245.7 L369.5 243.0 L370.1 240.2 L370.8 236.7 L371.5 234.7 L372.1 236.7 L372.8 239.4 L373.4 239.5 L374.1 238.8 L374.8 238.9 L375.4 235.1 L376.1 225.8 L376.7 218.4 L377.4 210.3 L378.1 204.7 L378.7 199.3 L379.4 193.8 L380.0 197.5 L380.7 203.9 L381.4 210.5 L382.0 215.6 L382.7 220.2 L383.3 220.5 L384.0 216.8 L384.7 212.5 L385.3 210.3 L386.0 211.0 L386.6 210.9 L387.3 210.4 L388.0 211.3 L388.6 213.4 L389.3 215.5 L389.9 215.3 L390.6 215.0 L391.3 215.9 L391.9 206.4 L392.6 195.8 L393.2 195.5 L393.9 197.4 L394.6 198.3 L395.2 203.0 L395.9 207.7 L396.5 208.6 L397.2 209.2 L397.9 208.2 L398.5 208.9 L399.2 212.2 L399.8 214.0 L400.5 217.6 L401.2 221.5 L401.8 224.2 L402.5 228.3 L403.1 232.6 L403.8 236.5 L404.5 241.2 L405.1 244.5 L405.8 248.4 L406.4 252.7 L407.1 257.3 L407.8 261.1 L408.4 264.6 L409.1 268.8 L409.7 265.1 L410.4 262.5 L411.1 258.7 L411.7 254.4 L412.4 252.5 L413.0 253.3 L413.7 254.1 L414.4 255.8 L415.0 255.5 L415.7 256.4 L416.3 255.9 L417.0 255.1 L417.7 252.0 L418.3 250.4 L419.0 247.7 L419.6 245.2 L420.3 242.5 L421.0 239.8 L421.6 237.9 L422.3 238.9 L422.9 240.8 L423.6 242.4 L424.3 244.1 L424.9 245.0 L425.6 245.9 L426.2 245.7 L426.9 244.5 L427.6 241.0 L428.2 236.7 L428.9 232.8 L429.5 227.0 L430.2 223.1 L430.9 223.8 L431.5 224.2 L432.2 224.9 L432.8 223.5 L433.5 223.6 L434.2 223.6 L434.8 224.4 L435.5 221.4 L436.1 218.2 L436.8 216.9 L437.5 215.5 L438.1 216.1 L438.8 214.8 L439.4 214.2 L440.1 212.8 L440.8 212.5 L441.4 209.7 L442.1 209.4 L442.7 207.5 L443.4 205.9 L444.1 203.5 L444.7 200.7 L445.4 195.2 L446.0 197.7 L446.7 201.0 L447.4 204.5 L448.0 204.1 L448.7 202.0 L449.3 199.3 L450.0 197.3 L450.7 197.1 L451.3 195.9 L452.0 194.7 L452.6 192.4 L453.3 189.3 L454.0 187.8 L454.6 187.0 L455.3 184.3 L455.9 182.5 L456.6 181.1 L457.3 181.2 L457.9 180.0 L458.6 177.5 L459.2 173.3 L459.9 168.5 L460.6 163.9 L461.2 159.5 L461.9 155.1 L462.5 152.6 L463.2 154.5 L463.9 156.6 L464.5 156.9 L465.2 154.6 L465.8 152.6 L466.5 150.3 L467.2 150.1 L467.8 156.1 L468.5 160.0 L469.1 161.5 L469.8 162.0 L470.5 163.1 L471.1 163.8 L471.8 164.2 L472.4 164.6 L473.1 167.1 L473.8 171.1 L474.4 173.0 L475.1 174.4 L475.7 176.2 L476.4 177.0 L477.1 178.2 L477.7 178.9 L478.4 179.6 L479.0 181.7 L479.7 183.7 L480.4 185.0 L481.0 184.7 L481.7 185.2 L482.3 184.5 L483.0 185.2 L483.7 184.8 L484.3 184.6 L485.0 184.9 L485.6 185.4 L486.3 184.5 L487.0 184.6 L487.6 185.3 L488.3 184.9 L488.9 183.5 L489.6 184.3 L490.3 185.1 L490.9 186.3 L491.6 187.2 L492.2 188.1 L492.9 189.1 L493.6 190.8 L494.2 191.8 L494.9 192.7 L495.5 199.0 L496.2 208.9 L496.9 217.0 L497.5 217.0 L498.2 211.4 L498.8 208.4 L499.5 206.3 L500.2 204.0 L500.8 204.4 L501.5 206.6 L502.1 208.4 L502.8 209.6 L503.5 212.1 L504.1 213.6 L504.8 214.9 L505.4 216.2 L506.1 219.7 L506.8 222.5 L507.4 221.0 L508.1 218.3 L508.7 214.6 L509.4 216.3 L510.1 217.8 L510.7 219.5 L511.4 216.8 L512.0 214.0 L512.7 212.4 L513.4 211.3 L514.0 209.1 L514.7 209.1 L515.3 212.4 L516.0 214.8 L516.7 215.5 L517.3 214.9 L518.0 213.8 L518.6 213.1 L519.3 215.2 L520.0 218.1 L520.6 220.8 L521.3 220.9 L521.9 222.2 L522.6 222.9 L523.3 223.9 L523.9 225.6 L524.6 228.7 L525.2 228.9 L525.9 229.2 L526.6 232.5 L527.2 234.5 L527.9 238.3 L528.5 240.6 L529.2 244.1 L529.9 248.3 L530.5 247.7 L531.2 246.6 L531.8 245.5 L532.5 243.9 L533.2 242.2 L533.8 240.7 L534.5 240.4 L535.1 239.5 L535.8 238.0 L536.5 236.7 L537.1 237.6 L537.8 239.9 L538.4 241.1 L539.1 241.9 L539.8 242.6 L540.4 245.2 L541.1 245.6 L541.7 247.3 L542.4 246.9 L543.1 248.6 L543.7 247.0 L544.4 245.2 L545.0 243.9 L545.7 243.1 L546.4 242.8 L547.0 242.6 L547.7 242.2 L548.3 242.0 L549.0 245.1 L549.7 246.2 L550.3 247.4 L551.0 250.0 L551.6 251.8 L552.3 253.3 L553.0 254.5 L553.6 257.1 L554.3 258.1 L554.9 259.4 L555.6 261.8 L556.3 262.8 L556.9 265.5 L557.6 269.9 L558.2 272.4 L558.9 275.1 L559.6 278.2 L560.2 279.8 L560.9 282.5 L561.5 284.4 L562.2 284.3 L562.9 283.0 L563.5 281.8 L564.2 281.5 L564.8 282.2 L565.5 284.1 L566.2 286.8 L566.8 289.7 L567.5 292.0 L568.1 293.1 L568.8 294.6 L569.5 293.0 L570.1 291.1 L570.8 291.0 L571.4 292.0 L572.1 292.2 L572.8 292.1 L573.4 292.6 L574.1 292.9 L574.7 293.7 L575.4 294.9 L576.1 294.1 L576.7 295.6 L577.4 293.6 L578.0 292.1 L578.7 291.1 L579.4 290.6 L580.0 290.8 L580.7 292.8 L581.3 292.3 L582.0 292.5 L582.7 291.4 L583.3 290.9 L584.0 292.8 L584.6 297.3 L585.3 299.7 L586.0 299.9 L586.6 302.5 L587.3 303.1 L587.9 304.4 L588.6 305.6 L589.3 306.4 L589.9 305.3 L590.6 303.6 L591.2 303.3 L591.9 303.0 L592.6 303.4 L593.2 304.7 L593.9 302.5 L594.5 299.8 L595.2 296.0 L595.9 292.4 L596.5 291.3 L597.2 289.9 L597.8 289.0 L598.5 290.1 L599.2 291.7 L599.8 291.9 L600.5 288.1 L601.1 283.0 L601.8 281.3 L602.5 276.8 L603.1 272.2 L603.8 271.4 L604.4 273.6 L605.1 277.1 L605.8 278.8 L606.4 281.7 L607.1 283.9 L607.7 286.4 L608.4 287.4 L609.1 289.4 L609.7 291.5 L610.4 291.3 L611.0 291.7 L611.7 292.9 L612.4 293.5 L613.0 294.0 L613.7 295.5 L614.3 297.0 L615.0 297.2 L615.7 297.8 L616.3 300.2 L617.0 302.8 L617.6 305.4 L618.3 304.3 L619.0 303.4 L619.6 300.7 L620.3 300.6 L620.9 301.7 L621.6 302.9 L622.3 302.9 L622.9 301.2 L623.6 300.4 L624.2 300.3 L624.9 300.6 L625.6 301.8 L626.2 302.8 L626.9 303.3 L627.5 304.5 L628.2 303.5 L628.9 303.6 L629.5 303.4 L630.2 301.8 L630.8 299.1 L631.5 296.5 L632.2 295.9 L632.8 293.0 L633.5 290.9 L634.1 289.3 L634.8 288.9 L635.5 287.9 L636.1 287.2 L636.8 288.3 L637.4 287.8 L638.1 287.9 L638.8 288.1 L639.4 288.4 L640.1 287.8 L640.7 287.0 L641.4 288.5 L642.1 288.5 L642.7 288.1 L643.4 286.5 L644.0 287.0 L644.7 286.1 L645.4 285.3 L646.0 286.5 L646.7 287.6 L647.3 288.9 L648.0 288.6 L648.7 288.3 L649.3 290.5 L650.0 293.2 L650.6 293.9 L651.3 294.9 L652.0 295.4 L652.6 294.6 L653.3 295.3 L653.9 295.5 L654.6 295.3 L655.3 296.5 L655.9 295.3 L656.6 296.4 L657.2 298.7 L657.9 298.4 L658.6 299.8 L659.2 301.2 L659.9 301.8 L660.5 303.0 L661.2 303.9 L661.9 305.6 L662.5 306.9 L663.2 306.9 L663.8 309.7 L664.5 312.1 L665.2 311.1 L665.8 311.6 L666.5 312.9 L667.1 311.1 L667.8 310.4 L668.5 309.7 L669.1 309.8 L669.8 309.2 L670.4 307.8 L671.1 308.4 L671.8 307.5 L672.4 307.6 L673.1 310.8 L673.7 311.3 L674.4 312.3 L675.1 314.6 L675.7 316.4 L676.4 318.7 L677.0 320.6 L677.7 324.6 L678.4 326.5 L679.0 328.3 L679.7 329.8 L680.3 331.5 L681.0 331.5 L681.7 332.0 L682.3 331.2 L683.0 328.8 L683.6 327.7 L684.3 327.1 L685.0 326.2 L685.6 327.7 L686.3 328.3 L686.9 329.1 L687.6 329.1 L688.3 329.9 L688.9 331.5 L689.6 333.3 L690.2 335.4 L690.9 338.3 L691.6 339.9 L692.2 341.8 L692.9 341.6 L693.5 342.5 L694.2 340.5 L694.8 340.1 L695.5 341.1 L696.2 342.1 L696.8 343.0 L697.5 343.3 L698.1 344.8 L698.8 347.0 L699.5 347.9 L700.1 347.2 L700.8 346.8 L701.4 345.2 L702.1 343.9 L702.8 343.3 L703.4 340.7 L704.1 341.7 L704.7 341.2 L705.4 341.0 L706.1 340.7 L706.7 340.3 L707.4 338.6 L708.0 338.8 L708.7 337.3 L709.4 335.6 L710.0 336.2 L710.7 334.1 L711.3 333.8 L712.0 332.8 L712.7 330.5 L713.3 329.6 L714.0 325.8 L714.6 323.5 L715.3 321.9 L716.0 323.4 L716.6 323.9 L717.3 326.4 L717.9 326.4 L718.6 324.4 L719.3 322.6 L719.9 322.1 L720.6 320.6 L721.2 320.4 L721.9 320.0 L722.6 319.1 L723.2 318.8 L723.9 319.1 L724.5 320.9 L725.2 321.5 L725.9 322.9 L726.5 322.3 L727.2 322.3 L727.8 322.5 L728.5 322.1 L729.2 321.4 L729.8 321.3 L730.5 320.1 L731.1 319.3 L731.8 319.0 L732.5 321.2 L733.1 321.6 L733.8 322.7 L734.4 320.7 L735.1 321.5 L735.8 321.8 L736.4 323.2 L737.1 324.1 L737.7 324.4 L738.4 325.4 L739.1 327.2 L739.7 329.1 L740.4 329.5 L741.0 330.8 L741.7 330.7 L742.4 331.7 L743.0 331.4 L743.7 332.7 L744.3 334.9 L745.0 334.7 L745.7 335.9 L746.3 334.8 L747.0 334.4 L747.6 336.7 L748.3 336.5 L749.0 336.8 L749.6 335.0 L750.3 334.5 L750.9 333.4 L751.6 334.0 L752.3 333.0 L752.9 334.4 L753.6 332.6 L754.2 332.1 L754.9 329.7 L755.6 326.0 L756.2 321.9 L756.9 319.5 L757.5 318.8 L758.2 319.5 L758.9 320.6 L759.5 321.2 L760.2 323.6 L760.8 323.9 L761.5 329.8 L762.2 335.3 L762.8 333.4 L763.5 334.9 L764.1 334.3 L764.8 334.9 L765.5 334.2 L766.1 334.8 L766.8 334.3 L767.4 335.0 L768.1 334.8 L768.8 334.0 L769.4 334.5 L770.1 336.6 L770.7 337.0 L771.4 338.5 L772.1 338.6 L772.7 338.7 L773.4 339.8 L774.0 341.1 L774.7 342.8 L775.4 344.1 L776.0 343.7 L776.7 343.4 L777.3 344.0 L778.0 344.2 L778.7 343.7 L779.3 343.4 L780.0 341.2 L780.6 340.5 L781.3 339.0 L782.0 338.7 L782.6 339.3 L783.3 339.8 L783.9 343.9 L784.6 345.8 L785.3 345.0 L785.9 344.0 L786.6 343.9 L787.2 343.3 L787.9 342.0 L788.6 342.9 L789.2 343.2 L789.9 343.4 L790.5 343.5 L791.2 342.0 L791.9 341.7 L792.5 341.2 L793.2 340.5 L793.8 340.2 L794.5 341.4 L795.2 341.9 L795.8 342.7 L796.5 343.7 L797.1 343.0 L797.8 343.2 L798.5 341.7 L799.1 337.2 L799.8 333.3 L800.4 329.8 L801.1 327.4 L801.8 326.9 L802.4 327.2 L803.1 327.1 L803.7 326.4 L804.4 322.2 L805.1 321.0 L805.7 319.1 L806.4 313.4 L807.0 308.8 L807.7 310.5 L808.4 309.9 L809.0 310.0 L809.7 311.1 L810.3 309.1 L811.0 308.0 L811.7 307.9 L812.3 307.9 L813.0 308.1 L813.6 307.7 L814.3 308.2 L815.0 306.6 L815.6 303.6 L816.3 301.7 L816.9 296.7 L817.6 288.3 L818.3 275.6 L818.9 265.9 L819.6 261.1 L820.2 269.4 L820.9 278.0 L821.6 283.9 L822.2 281.9 L822.9 277.0 L823.5 274.5 L824.2 274.7 L824.9 270.9 L825.5 264.3 L826.2 261.8 L826.8 261.8 L827.5 262.7 L828.2 263.4 L828.8 267.7 L829.5 269.4 L830.1 270.2 L830.8 271.1 L831.5 271.0 L832.1 271.3 L832.8 271.7 L833.4 272.8 L834.1 272.6 L834.8 274.6 L835.4 275.7 L836.1 276.3 L836.7 277.9 L837.4 279.2 L838.1 281.3 L838.7 284.8 L839.4 289.0 L840.0 292.4 L840.7 292.0 L841.4 293.4 L842.0 293.6 L842.7 293.6 L843.3 295.1 L844.0 298.0 L844.7 300.7 L845.3 303.4 L846.0 305.3 L846.6 308.5 L847.3 310.0 L848.0 311.4 L848.6 312.6 L849.3 314.5 L849.9 315.0 L850.6 317.7 L851.3 321.1 L851.9 323.6 L852.6 324.0 L853.2 323.7 L853.9 322.5 L854.6 321.8 L855.2 318.9 L855.9 317.1 L856.5 313.7 L857.2 310.7 L857.9 308.2 L858.5 306.0 L859.2 303.3 L859.8 296.9 L860.5 291.1 L861.2 285.1 L861.8 286.2 L862.5 293.0 L863.1 294.2 L863.8 285.9 L864.5 278.1 L865.1 265.9 L865.8 253.2 L866.4 243.4 L867.1 235.0 L867.8 235.9 L868.4 240.7 L869.1 252.2 L869.7 266.3 L870.4 281.1 L871.1 291.3 L871.7 298.0 L872.4 300.9 L873.0 302.5 L873.7 302.6 L874.4 303.6 L875.0 304.2 L875.7 306.1 L876.3 306.2 L877.0 307.1 L877.7 308.8 L878.3 310.7 L879.0 313.6 L879.6 315.6 L880.3 318.2 L881.0 322.9 L881.6 327.1 L882.3 329.9 L882.9 335.2 L883.6 336.4 L884.3 337.7 L884.9 338.3 L885.6 339.5 L886.2 339.2 L886.9 338.5 L887.6 337.4 L888.2 337.5 L888.9 339.0 L889.5 340.3 L890.2 342.6 L890.9 342.4 L891.5 342.7 L892.2 344.2 L892.8 345.8 L893.5 346.2 L894.2 348.5 L894.8 349.7 L895.5 349.0 L896.1 347.6 L896.8 346.8 L897.5 344.8 L898.1 343.8 L898.8 343.8 L899.4 343.3 L900.1 342.4 L900.8 341.8 L901.4 340.5 L902.1 339.3 L902.7 336.6 L903.4 335.6 L904.1 335.7 L904.7 334.4 L905.4 335.1 L906.0 336.3 L906.7 337.2 L907.4 339.0 L908.0 341.2 L908.7 342.8 L909.3 345.5 L910.0 345.9 L910.7 344.9 L911.3 344.9 L912.0 345.0 L912.6 344.5 L913.3 343.4 L914.0 342.8 L914.6 342.8 L915.3 344.4 L915.9 346.7 L916.6 347.4 L917.3 348.0 L917.9 345.3 L918.6 345.6 L919.2 345.5 L919.9 345.1 L920.6 344.7 L921.2 342.9 L921.9 344.0 L922.5 341.9 L923.2 341.4 L923.9 340.0 L924.5 340.0 L925.2 338.9 L925.8 338.9 L926.5 336.8 L927.2 339.1 L927.8 340.1 L928.5 340.2 L929.1 341.0 L929.8 339.8 L930.5 339.7 L931.1 338.7 L931.8 337.4 L932.4 336.6 L933.1 335.9 L933.8 335.6 L934.4 335.6 L935.1 336.3 L935.7 336.3 L936.4 337.2 L937.1 334.7 L937.7 334.1 L938.4 334.3 L939.0 332.7 L939.7 331.5 L940.4 330.1 L941.0 327.3 L941.7 325.4 L942.3 325.5 L943.0 325.0 L943.7 326.4 L944.3 328.6 L945.0 328.7 L945.6 327.9 L946.3 328.2 L947.0 327.9 L947.6 327.0 L948.3 327.1 L948.9 327.1 L949.6 327.0 L950.3 327.8 L950.9 328.5 L951.6 328.5 L952.2 327.9 L952.9 328.3 L953.6 328.5 L954.2 328.8 L954.9 328.1 L955.5 325.9 L956.2 327.2 L956.9 327.1 L957.5 327.1 L958.2 327.5 L958.8 327.9 L959.5 328.0 L960.2 329.6 L960.8 329.9 L961.5 330.3 L962.1 329.8 L962.8 330.0 L963.5 330.8 L964.1 331.2 L964.8 332.0 L965.4 331.7 L966.1 332.6 L966.8 333.1 L967.4 334.3 L968.1 335.3 L968.7 335.7 L969.4 336.8 L970.1 337.2 L970.7 336.5 L971.4 336.7 L972.0 337.5 L972.7 337.8 L973.4 338.0 L974.0 336.8 L974.7 336.2 L975.3 335.7 L976.0 335.4 L976.7 335.7 L977.3 335.9 L978.0 335.7 L978.6 336.2 L979.3 335.6 L980.0 335.4 L980.6 335.6 L981.3 334.5 L981.9 334.0 L982.6 334.0 L983.3 334.4 L983.9 335.6 L984.6 336.7 L985.2 338.0 L985.9 339.0 L986.6 338.8 L987.2 340.3 L987.9 340.3 L988.5 338.1 L989.2 336.4 L989.9 335.0 L990.5 334.4 L991.2 334.1 L991.8 333.1 L992.5 330.2 L993.2 332.0 L993.8 331.9 L994.5 331.6 L995.1 330.1 L995.8 329.4 L996.5 330.1 L997.1 329.8 L997.8 330.7 L998.4 330.7 L999.1 331.6 L999.8 330.8 L1000.4 331.3 L1001.1 329.1 L1001.7 329.7 L1002.4 329.5 L1003.1 328.7 L1003.7 329.1 L1004.4 328.4 L1005.0 329.1 L1005.7 330.4 L1006.4 331.8 L1007.0 334.0 L1007.7 335.4 L1008.3 336.5 L1009.0 336.0 L1009.7 335.1 L1010.3 334.5 L1011.0 333.5 L1011.6 331.5 L1012.3 330.9 L1013.0 329.3 L1013.6 328.5 L1014.3 328.2 L1014.9 327.8 L1015.6 327.1 L1016.3 327.3 L1016.9 327.4 L1017.6 328.4 L1018.2 328.6 L1018.9 329.1 L1019.6 328.3 L1020.2 327.0 L1020.9 325.0 L1021.5 323.4 L1022.2 324.5 L1022.9 324.9 L1023.5 325.4 L1024.2 325.5 L1024.8 327.0 L1025.5 326.7 L1026.2 327.4 L1026.8 327.0 L1027.5 327.4 L1028.1 326.2 L1028.8 324.9 L1029.5 325.6 L1030.1 325.1 L1030.8 325.2 L1031.4 325.6 L1032.1 325.8 L1032.8 325.7 L1033.4 324.3 L1034.1 324.0 L1034.7 324.3 L1035.4 325.1 L1036.1 325.7 L1036.7 325.4 L1037.4 323.0 L1038.0 321.4 L1038.7 320.7 L1039.4 318.6 L1040.0 318.7 L1040.7 320.2 L1041.3 322.0 L1042.0 322.8 L1042.7 323.1 L1043.3 322.3 L1044.0 322.3 L1044.6 321.8 L1045.3 322.1 L1046.0 322.6 L1046.6 322.8 L1047.3 323.6 L1047.9 322.5 L1048.6 321.3 L1049.3 322.4 L1049.9 323.1 L1050.6 322.0 L1051.2 322.0 L1051.9 321.1 L1052.6 321.2 L1053.2 321.9 L1053.9 323.1 L1054.5 322.6 L1055.2 322.0 L1055.9 323.1 L1056.5 323.4 L1057.2 325.1 L1057.8 324.6 L1058.5 324.5 L1059.2 322.5 L1059.8 323.8 L1060.5 325.1 L1061.1 325.5 L1061.8 324.9 L1062.5 323.0 L1063.1 321.8 L1063.8 321.5 L1064.4 323.1 L1065.1 323.8 L1065.8 323.3 L1066.4 323.6 L1067.1 323.9 L1067.7 324.2 L1068.4 323.2 L1069.1 322.8 L1069.7 323.6 L1070.4 324.1 L1071.0 324.0 L1071.7 326.2 L1072.4 326.4 L1073.0 326.0 L1073.7 327.3 L1074.3 328.5 L1075.0 329.0 L1075.7 331.0 L1076.3 329.6 L1077.0 324.2 L1077.6 319.3 L1078.3 313.7 L1079.0 307.4 L1079.6 303.8 L1080.3 299.4 L1080.9 296.0 L1081.6 293.7 L1082.3 295.6 L1082.9 298.4 L1083.6 298.3 L1084.2 299.5 L1084.9 299.6 L1085.6 301.2 L1086.2 302.4 L1086.9 301.6 L1087.5 301.7 L1088.2 302.5 L1088.9 303.6 L1089.5 305.3 L1090.2 307.5 L1090.8 310.2 L1091.5 312.3 L1092.2 311.9 L1092.8 311.9 L1093.5 312.0 L1094.1 312.2 L1094.8 312.8 L1095.5 317.4 L1095.8 319.3" fill="none" stroke="#0a6418" stroke-width="2.9" stroke-linecap="round" stroke-linejoin="round" stroke-dasharray="0.01 6"/>
<path d="M68.5 276.5 L69.2 276.5 L69.8 275.7 L70.5 275.6 L71.1 275.9 L71.8 275.4 L72.5 275.4 L73.1 273.4 L73.8 272.2 L74.4 272.2 L75.1 272.4 L75.8 273.2 L76.4 274.3 L77.1 275.5 L77.7 276.8 L78.4 277.3 L79.1 276.3 L79.7 273.3 L80.4 272.0 L81.0 270.5 L81.7 269.9 L82.4 270.9 L83.0 270.5 L83.7 266.6 L84.3 262.4 L85.0 259.3 L85.7 258.0 L86.3 257.1 L87.0 255.5 L87.6 252.9 L88.3 249.9 L89.0 247.3 L89.6 246.1 L90.3 241.2 L90.9 236.3 L91.6 231.9 L92.3 228.6 L92.9 223.7 L93.6 220.5 L94.2 219.6 L94.9 219.7 L95.6 220.7 L96.2 220.9 L96.9 220.8 L97.5 220.3 L98.2 219.6 L98.9 215.0 L99.5 207.1 L100.2 190.2 L100.8 178.5 L101.5 171.6 L102.2 169.4 L102.8 170.3 L103.5 174.4 L104.1 177.6 L104.8 179.6 L105.5 179.8 L106.1 180.3 L106.8 179.3 L107.4 178.4 L108.1 177.0 L108.8 174.6 L109.4 167.5 L110.1 161.9 L110.7 156.3 L111.4 151.7 L112.1 149.6 L112.7 151.6 L113.4 153.5 L114.0 153.6 L114.7 153.7 L115.4 154.4 L116.0 154.6 L116.7 153.8 L117.3 151.1 L118.0 147.4 L118.7 142.3 L119.3 129.9 L120.0 127.7 L120.6 125.6 L121.3 130.0 L122.0 137.5 L122.6 145.9 L123.3 151.8 L123.9 156.5 L124.6 164.5 L125.3 171.1 L125.9 177.9 L126.6 185.8 L127.2 194.4 L127.9 208.2 L128.6 206.9 L129.2 203.4 L129.9 203.0 L130.5 200.7 L131.2 198.1 L131.9 195.9 L132.5 192.9 L133.2 192.5 L133.8 194.0 L134.5 196.1 L135.2 197.9 L135.8 199.2 L136.5 199.5 L137.1 199.9 L137.8 199.6 L138.5 199.3 L139.1 198.7 L139.8 198.3 L140.4 199.5 L141.1 202.0 L141.8 203.7 L142.4 204.7 L143.1 207.9 L143.7 208.6 L144.4 209.2 L145.1 209.3 L145.7 209.0 L146.4 210.8 L147.0 211.5 L147.7 212.8 L148.4 214.9 L149.0 217.0 L149.7 218.4 L150.3 220.3 L151.0 224.9 L151.7 228.1 L152.3 230.1 L153.0 230.4 L153.6 226.7 L154.3 222.9 L155.0 219.6 L155.6 216.0 L156.3 214.9 L156.9 214.0 L157.6 213.1 L158.3 213.0 L158.9 213.6 L159.6 217.6 L160.2 215.7 L160.9 212.4 L161.6 214.8 L162.2 219.2 L162.9 213.5 L163.5 210.9 L164.2 215.3 L164.9 216.8 L165.5 214.4 L166.2 216.1 L166.8 218.2 L167.5 215.6 L168.2 213.2 L168.8 215.5 L169.5 216.0 L170.1 213.8 L170.8 210.6 L171.5 208.3 L172.1 205.8 L172.8 205.4 L173.4 209.8 L174.1 212.4 L174.8 211.0 L175.4 211.4 L176.1 213.8 L176.7 215.3 L177.4 212.3 L178.1 212.0 L178.7 213.9 L179.4 214.7 L180.0 212.2 L180.7 213.6 L181.4 219.6 L182.0 227.8 L182.7 236.1 L183.3 235.7 L184.0 232.2 L184.7 230.7 L185.3 229.3 L186.0 228.8 L186.6 229.7 L187.3 230.9 L188.0 231.4 L188.6 233.7 L189.3 235.0 L189.9 238.5 L190.6 235.5 L191.3 232.2 L191.9 228.1 L192.6 224.1 L193.2 222.6 L193.9 223.2 L194.6 221.7 L195.2 221.4 L195.9 222.5 L196.5 223.6 L197.2 223.3 L197.9 222.0 L198.5 221.0 L199.2 226.3 L199.8 230.5 L200.5 233.8 L201.2 234.6 L201.8 234.7 L202.5 233.8 L203.1 231.9 L203.8 227.9 L204.5 223.9 L205.1 219.5 L205.8 218.1 L206.4 217.4 L207.1 217.1 L207.8 216.4 L208.4 217.4 L209.1 219.1 L209.7 219.3 L210.4 217.9 L211.1 217.4 L211.7 217.4 L212.4 218.5 L213.0 218.2 L213.7 216.7 L214.4 216.4 L215.0 215.5 L215.7 214.6 L216.3 215.0 L217.0 214.6 L217.7 214.1 L218.3 215.7 L219.0 213.8 L219.6 213.8 L220.3 213.9 L221.0 214.5 L221.6 211.5 L222.3 204.9 L222.9 194.4 L223.6 195.5 L224.3 194.9 L224.9 195.8 L225.6 196.5 L226.2 195.8 L226.9 194.7 L227.6 195.0 L228.2 192.5 L228.9 190.8 L229.5 188.8 L230.2 187.0 L230.9 184.7 L231.5 182.3 L232.2 177.2 L232.8 174.2 L233.5 170.6 L234.2 164.9 L234.8 160.1 L235.5 158.5 L236.1 157.4 L236.8 158.7 L237.5 156.4 L238.1 155.4 L238.8 153.1 L239.4 153.0 L240.1 151.3 L240.8 142.4 L241.4 133.4 L242.1 124.9 L242.7 119.5 L243.4 121.5 L244.1 123.9 L244.7 125.2 L245.4 127.3 L246.0 128.9 L246.7 129.2 L247.4 128.8 L248.0 129.6 L248.7 129.2 L249.3 128.7 L250.0 128.6 L250.7 128.3 L251.3 128.1 L252.0 125.8 L252.6 122.7 L253.3 118.8 L254.0 114.4 L254.6 108.2 L255.3 104.7 L255.9 103.6 L256.6 102.7 L257.3 103.9 L257.9 104.1 L258.6 105.3 L259.2 104.7 L259.9 105.8 L260.6 106.0 L261.2 105.6 L261.9 105.7 L262.5 104.2 L263.2 103.2 L263.9 102.5 L264.5 99.6 L265.2 99.8 L265.8 99.7 L266.5 97.2 L267.2 91.3 L267.8 86.0 L268.5 83.3 L269.1 83.3 L269.8 88.6 L270.5 91.0 L271.1 92.4 L271.8 93.9 L272.4 93.4 L273.1 92.6 L273.8 92.4 L274.4 91.1 L275.1 95.4 L275.7 100.5 L276.4 103.1 L277.1 104.9 L277.7 107.9 L278.4 111.4 L279.0 115.9 L279.7 118.6 L280.4 120.6 L281.0 123.0 L281.7 124.5 L282.4 124.2 L283.0 123.3 L283.7 122.3 L284.3 125.1 L285.0 128.1 L285.7 131.3 L286.3 137.5 L287.0 142.3 L287.6 147.8 L288.3 151.1 L289.0 154.1 L289.6 155.2 L290.3 156.7 L290.9 158.1 L291.6 159.1 L292.3 159.7 L292.9 159.4 L293.6 157.6 L294.2 159.8 L294.9 162.1 L295.6 164.3 L296.2 169.3 L296.9 173.0 L297.5 175.3 L298.2 175.3 L298.9 174.9 L299.5 176.3 L300.2 176.4 L300.8 175.3 L301.5 174.6 L302.2 174.2 L302.8 173.7 L303.5 173.0 L304.1 172.8 L304.8 174.5 L305.5 174.5 L306.1 173.2 L306.8 174.4 L307.4 173.5 L308.1 171.8 L308.8 170.5 L309.4 168.9 L310.1 171.0 L310.7 174.3 L311.4 177.5 L312.1 180.3 L312.7 181.8 L313.4 182.5 L314.0 183.8 L314.7 183.7 L315.4 183.5 L316.0 181.9 L316.7 181.6 L317.3 179.8 L318.0 178.1 L318.7 175.4 L319.3 172.3 L320.0 172.9 L320.6 173.3 L321.3 172.5 L322.0 172.2 L322.6 173.8 L323.3 176.4 L323.9 177.5 L324.6 180.2 L325.3 179.9 L325.9 179.5 L326.6 179.3 L327.2 179.6 L327.9 178.4 L328.6 179.7 L329.2 181.8 L329.9 180.9 L330.5 180.5 L331.2 180.5 L331.9 181.2 L332.5 183.8 L333.2 185.7 L333.8 189.3 L334.5 188.5 L335.2 187.3 L335.8 188.6 L336.5 189.1 L337.1 189.3 L337.8 191.6 L338.5 193.6 L339.1 195.5 L339.8 195.3 L340.4 194.6 L341.1 193.7 L341.8 194.2 L342.4 195.8 L343.1 197.4 L343.7 198.9 L344.4 201.7 L345.1 202.0 L345.7 202.7 L346.4 205.6 L347.0 206.2 L347.7 215.7 L348.4 219.1 L349.0 218.2 L349.7 220.2 L350.3 219.7 L351.0 219.3 L351.7 218.5 L352.3 218.2 L353.0 218.0 L353.6 219.6 L354.3 220.7 L355.0 222.9 L355.6 224.5 L356.3 224.4 L356.9 226.6 L357.6 228.4 L358.3 230.4 L358.9 232.9 L359.6 236.5 L360.2 241.5 L360.9 244.4 L361.6 249.1 L362.2 253.0 L362.9 258.6 L363.5 262.2 L364.2 264.9 L364.9 262.9 L365.5 261.5 L366.2 258.5 L366.8 256.3 L367.5 253.8 L368.2 251.5 L368.8 248.9 L369.5 245.9 L370.1 243.2 L370.8 239.6 L371.5 240.0 L372.1 241.2 L372.8 241.1 L373.4 241.8 L374.1 242.7 L374.8 242.6 L375.4 239.2 L376.1 229.2 L376.7 222.4 L377.4 215.7 L378.1 209.5 L378.7 204.8 L379.4 201.5 L380.0 205.9 L380.7 210.5 L381.4 215.5 L382.0 220.6 L382.7 227.1 L383.3 228.5 L384.0 225.4 L384.7 221.3 L385.3 218.9 L386.0 217.8 L386.6 216.5 L387.3 215.3 L388.0 216.7 L388.6 220.0 L389.3 222.1 L389.9 223.6 L390.6 223.9 L391.3 223.6 L391.9 214.6 L392.6 205.4 L393.2 206.1 L393.9 206.8 L394.6 208.4 L395.2 212.8 L395.9 216.2 L396.5 216.2 L397.2 216.0 L397.9 217.2 L398.5 215.6 L399.2 216.1 L399.8 218.0 L400.5 220.4 L401.2 222.7 L401.8 227.1 L402.5 231.1 L403.1 234.5 L403.8 237.8 L404.5 242.6 L405.1 247.3 L405.8 251.8 L406.4 254.4 L407.1 258.6 L407.8 260.5 L408.4 262.1 L409.1 266.9 L409.7 265.0 L410.4 261.4 L411.1 258.5 L411.7 256.0 L412.4 253.8 L413.0 255.4 L413.7 257.3 L414.4 258.8 L415.0 258.2 L415.7 256.4 L416.3 257.9 L417.0 256.5 L417.7 252.9 L418.3 249.5 L419.0 246.2 L419.6 244.2 L420.3 243.6 L421.0 242.0 L421.6 238.8 L422.3 239.0 L422.9 239.1 L423.6 240.4 L424.3 240.7 L424.9 241.2 L425.6 241.2 L426.2 243.2 L426.9 242.8 L427.6 239.0 L428.2 235.3 L428.9 229.5 L429.5 224.3 L430.2 218.5 L430.9 219.8 L431.5 220.7 L432.2 219.8 L432.8 220.6 L433.5 221.0 L434.2 221.4 L434.8 221.0 L435.5 217.4 L436.1 214.2 L436.8 211.6 L437.5 210.5 L438.1 209.2 L438.8 209.7 L439.4 209.6 L440.1 208.7 L440.8 206.8 L441.4 208.2 L442.1 207.5 L442.7 206.5 L443.4 205.3 L444.1 204.9 L444.7 201.0 L445.4 193.0 L446.0 194.7 L446.7 197.7 L447.4 200.3 L448.0 200.5 L448.7 198.5 L449.3 197.1 L450.0 195.3 L450.7 195.0 L451.3 193.4 L452.0 192.0 L452.6 189.8 L453.3 187.5 L454.0 185.4 L454.6 181.7 L455.3 179.2 L455.9 178.6 L456.6 177.7 L457.3 178.2 L457.9 178.2 L458.6 175.2 L459.2 171.3 L459.9 166.2 L460.6 162.0 L461.2 158.9 L461.9 153.9 L462.5 150.5 L463.2 152.2 L463.9 153.8 L464.5 153.3 L465.2 151.5 L465.8 149.2 L466.5 147.2 L467.2 146.7 L467.8 147.0 L468.5 150.1 L469.1 154.1 L469.8 155.5 L470.5 156.0 L471.1 156.4 L471.8 158.4 L472.4 157.0 L473.1 157.4 L473.8 158.8 L474.4 159.7 L475.1 161.5 L475.7 164.7 L476.4 166.1 L477.1 167.8 L477.7 170.1 L478.4 171.5 L479.0 172.7 L479.7 174.4 L480.4 177.1 L481.0 178.8 L481.7 181.8 L482.3 183.9 L483.0 184.5 L483.7 184.5 L484.3 186.9 L485.0 188.1 L485.6 188.5 L486.3 188.3 L487.0 189.8 L487.6 189.3 L488.3 188.8 L488.9 188.6 L489.6 189.0 L490.3 189.8 L490.9 188.9 L491.6 189.9 L492.2 191.0 L492.9 192.5 L493.6 192.9 L494.2 194.7 L494.9 196.7 L495.5 202.7 L496.2 211.2 L496.9 220.3 L497.5 220.6 L498.2 216.4 L498.8 213.8 L499.5 210.1 L500.2 208.6 L500.8 207.9 L501.5 210.3 L502.1 212.2 L502.8 214.0 L503.5 214.3 L504.1 216.2 L504.8 215.1 L505.4 217.4 L506.1 219.3 L506.8 223.4 L507.4 221.2 L508.1 218.9 L508.7 216.4 L509.4 218.0 L510.1 220.3 L510.7 220.3 L511.4 217.9 L512.0 216.5 L512.7 215.0 L513.4 212.9 L514.0 210.6 L514.7 209.6 L515.3 212.4 L516.0 215.1 L516.7 216.6 L517.3 215.9 L518.0 215.7 L518.6 216.4 L519.3 218.9 L520.0 221.1 L520.6 224.3 L521.3 225.2 L521.9 226.7 L522.6 227.9 L523.3 229.4 L523.9 232.1 L524.6 233.6 L525.2 235.1 L525.9 236.9 L526.6 237.9 L527.2 239.6 L527.9 241.5 L528.5 244.9 L529.2 248.4 L529.9 250.4 L530.5 248.4 L531.2 246.9 L531.8 245.2 L532.5 243.6 L533.2 241.4 L533.8 240.5 L534.5 238.5 L535.1 237.2 L535.8 235.8 L536.5 234.6 L537.1 236.5 L537.8 238.0 L538.4 239.5 L539.1 238.9 L539.8 239.4 L540.4 240.9 L541.1 241.8 L541.7 244.0 L542.4 245.3 L543.1 247.5 L543.7 247.7 L544.4 247.8 L545.0 246.7 L545.7 246.6 L546.4 245.6 L547.0 244.4 L547.7 244.8 L548.3 243.8 L549.0 244.2 L549.7 246.8 L550.3 247.9 L551.0 249.5 L551.6 251.1 L552.3 252.6 L553.0 255.6 L553.6 257.0 L554.3 260.4 L554.9 262.5 L555.6 264.1 L556.3 266.6 L556.9 269.8 L557.6 275.0 L558.2 277.1 L558.9 279.7 L559.6 280.8 L560.2 283.7 L560.9 286.0 L561.5 288.6 L562.2 289.2 L562.9 287.5 L563.5 286.2 L564.2 286.0 L564.8 287.8 L565.5 288.6 L566.2 290.1 L566.8 291.5 L567.5 294.7 L568.1 296.6 L568.8 298.0 L569.5 298.2 L570.1 296.5 L570.8 295.3 L571.4 295.3 L572.1 294.1 L572.8 292.3 L573.4 292.7 L574.1 291.8 L574.7 292.8 L575.4 292.8 L576.1 293.2 L576.7 292.9 L577.4 293.5 L578.0 294.2 L578.7 294.3 L579.4 294.9 L580.0 295.4 L580.7 295.1 L581.3 293.5 L582.0 293.3 L582.7 292.0 L583.3 290.6 L584.0 292.0 L584.6 293.6 L585.3 297.6 L586.0 300.1 L586.6 302.0 L587.3 304.3 L587.9 303.6 L588.6 305.8 L589.3 306.1 L589.9 305.1 L590.6 304.1 L591.2 303.2 L591.9 301.9 L592.6 301.3 L593.2 300.9 L593.9 299.8 L594.5 297.2 L595.2 295.3 L595.9 292.8 L596.5 290.2 L597.2 287.7 L597.8 287.4 L598.5 289.0 L599.2 288.4 L599.8 288.1 L600.5 285.2 L601.1 283.4 L601.8 278.9 L602.5 275.9 L603.1 273.2 L603.8 273.2 L604.4 276.8 L605.1 279.2 L605.8 281.6 L606.4 283.5 L607.1 286.3 L607.7 286.6 L608.4 288.2 L609.1 289.8 L609.7 290.7 L610.4 292.6 L611.0 291.9 L611.7 292.0 L612.4 294.0 L613.0 294.2 L613.7 295.5 L614.3 294.1 L615.0 296.2 L615.7 296.4 L616.3 297.8 L617.0 301.2 L617.6 303.9 L618.3 302.3 L619.0 301.1 L619.6 298.0 L620.3 297.6 L620.9 298.5 L621.6 299.7 L622.3 299.6 L622.9 298.5 L623.6 297.4 L624.2 298.6 L624.9 298.9 L625.6 300.2 L626.2 300.4 L626.9 302.5 L627.5 302.7 L628.2 302.5 L628.9 301.8 L629.5 301.6 L630.2 298.5 L630.8 296.4 L631.5 294.7 L632.2 293.4 L632.8 291.5 L633.5 288.4 L634.1 287.0 L634.8 286.5 L635.5 286.7 L636.1 287.6 L636.8 288.0 L637.4 287.3 L638.1 286.8 L638.8 287.1 L639.4 286.8 L640.1 287.0 L640.7 286.7 L641.4 288.0 L642.1 288.3 L642.7 287.8 L643.4 288.3 L644.0 286.7 L644.7 285.8 L645.4 286.1 L646.0 285.9 L646.7 286.3 L647.3 286.6 L648.0 287.3 L648.7 289.5 L649.3 292.3 L650.0 294.1 L650.6 294.4 L651.3 292.7 L652.0 292.4 L652.6 292.9 L653.3 293.0 L653.9 294.1 L654.6 294.0 L655.3 294.2 L655.9 294.9 L656.6 294.0 L657.2 296.5 L657.9 296.6 L658.6 297.8 L659.2 297.8 L659.9 299.2 L660.5 299.9 L661.2 302.3 L661.9 302.2 L662.5 304.3 L663.2 306.3 L663.8 308.3 L664.5 310.5 L665.2 310.6 L665.8 309.4 L666.5 309.4 L667.1 308.4 L667.8 307.4 L668.5 306.9 L669.1 306.2 L669.8 305.4 L670.4 306.0 L671.1 305.5 L671.8 303.4 L672.4 302.5 L673.1 303.8 L673.7 307.3 L674.4 308.8 L675.1 310.1 L675.7 312.5 L676.4 312.7 L677.0 316.2 L677.7 318.0 L678.4 319.2 L679.0 321.9 L679.7 323.2 L680.3 324.3 L681.0 326.8 L681.7 329.5 L682.3 327.8 L683.0 326.4 L683.6 325.2 L684.3 325.0 L685.0 324.1 L685.6 323.7 L686.3 323.5 L686.9 324.4 L687.6 326.0 L688.3 325.7 L688.9 328.5 L689.6 331.9 L690.2 333.2 L690.9 333.9 L691.6 335.1 L692.2 336.0 L692.9 334.5 L693.5 334.7 L694.2 334.7 L694.8 336.7 L695.5 338.5 L696.2 339.1 L696.8 340.2 L697.5 340.7 L698.1 343.9 L698.8 344.5 L699.5 346.1 L700.1 347.0 L700.8 345.8 L701.4 344.9 L702.1 344.4 L702.8 345.1 L703.4 343.4 L704.1 343.1 L704.7 342.9 L705.4 342.5 L706.1 341.1 L706.7 341.1 L707.4 340.8 L708.0 338.5 L708.7 335.9 L709.4 335.7 L710.0 333.4 L710.7 331.5 L711.3 331.3 L712.0 330.0 L712.7 329.3 L713.3 327.4 L714.0 324.4 L714.6 321.2 L715.3 321.5 L716.0 321.8 L716.6 322.4 L717.3 324.0 L717.9 324.4 L718.6 323.6 L719.3 322.2 L719.9 322.3 L720.6 320.7 L721.2 319.5 L721.9 319.4 L722.6 319.8 L723.2 321.2 L723.9 322.8 L724.5 324.0 L725.2 325.1 L725.9 323.9 L726.5 322.8 L727.2 322.8 L727.8 323.0 L728.5 322.0 L729.2 320.4 L729.8 319.4 L730.5 319.3 L731.1 318.3 L731.8 318.0 L732.5 318.5 L733.1 318.9 L733.8 319.9 L734.4 320.2 L735.1 321.4 L735.8 322.3 L736.4 322.8 L737.1 324.0 L737.7 325.2 L738.4 324.7 L739.1 326.0 L739.7 327.2 L740.4 328.0 L741.0 327.7 L741.7 327.8 L742.4 329.0 L743.0 328.9 L743.7 330.3 L744.3 330.5 L745.0 331.3 L745.7 329.4 L746.3 330.6 L747.0 331.2 L747.6 330.3 L748.3 331.7 L749.0 331.7 L749.6 330.7 L750.3 331.7 L750.9 332.4 L751.6 332.7 L752.3 332.6 L752.9 332.6 L753.6 330.2 L754.2 329.3 L754.9 329.6 L755.6 326.3 L756.2 320.9 L756.9 318.2 L757.5 318.0 L758.2 317.5 L758.9 317.6 L759.5 315.6 L760.2 318.4 L760.8 320.2 L761.5 322.4 L762.2 328.0 L762.8 328.5 L763.5 328.7 L764.1 329.5 L764.8 330.4 L765.5 331.9 L766.1 331.5 L766.8 330.6 L767.4 330.1 L768.1 330.9 L768.8 329.4 L769.4 329.8 L770.1 330.6 L770.7 331.8 L771.4 331.8 L772.1 333.6 L772.7 334.8 L773.4 337.0 L774.0 338.3 L774.7 339.5 L775.4 340.2 L776.0 340.3 L776.7 339.5 L777.3 337.8 L778.0 337.0 L778.7 336.5 L779.3 335.7 L780.0 335.5 L780.6 335.8 L781.3 334.9 L782.0 336.0 L782.6 335.9 L783.3 337.9 L783.9 340.7 L784.6 341.7 L785.3 339.4 L785.9 339.5 L786.6 339.8 L787.2 341.2 L787.9 340.8 L788.6 341.2 L789.2 341.3 L789.9 341.7 L790.5 340.5 L791.2 339.4 L791.9 337.8 L792.5 337.3 L793.2 337.7 L793.8 336.4 L794.5 337.3 L795.2 339.6 L795.8 340.0 L796.5 338.7 L797.1 338.6 L797.8 340.0 L798.5 339.6 L799.1 335.3 L799.8 331.4 L800.4 328.9 L801.1 324.4 L801.8 325.5 L802.4 325.0 L803.1 325.4 L803.7 324.2 L804.4 322.0 L805.1 322.5 L805.7 320.2 L806.4 314.3 L807.0 309.8 L807.7 309.5 L808.4 309.1 L809.0 308.9 L809.7 308.9 L810.3 309.6 L811.0 307.8 L811.7 307.7 L812.3 305.7 L813.0 305.5 L813.6 304.3 L814.3 304.0 L815.0 302.3 L815.6 301.6 L816.3 300.5 L816.9 295.4 L817.6 287.2 L818.3 275.7 L818.9 265.3 L819.6 260.4 L820.2 269.3 L820.9 276.8 L821.6 282.7 L822.2 280.4 L822.9 275.5 L823.5 274.0 L824.2 273.0 L824.9 268.1 L825.5 261.6 L826.2 258.8 L826.8 259.2 L827.5 259.2 L828.2 262.1 L828.8 264.9 L829.5 267.1 L830.1 268.8 L830.8 270.3 L831.5 269.6 L832.1 270.7 L832.8 271.1 L833.4 271.6 L834.1 270.9 L834.8 272.8 L835.4 274.3 L836.1 274.3 L836.7 273.9 L837.4 275.5 L838.1 278.6 L838.7 284.7 L839.4 287.1 L840.0 291.1 L840.7 292.5 L841.4 293.1 L842.0 294.1 L842.7 295.4 L843.3 297.8 L844.0 302.0 L844.7 305.2 L845.3 308.3 L846.0 311.3 L846.6 312.1 L847.3 314.9 L848.0 315.0 L848.6 316.0 L849.3 316.8 L849.9 317.2 L850.6 320.1 L851.3 322.5 L851.9 326.1 L852.6 326.9 L853.2 327.0 L853.9 325.2 L854.6 323.5 L855.2 321.3 L855.9 317.4 L856.5 315.5 L857.2 313.4 L857.9 312.6 L858.5 311.7 L859.2 309.0 L859.8 304.0 L860.5 298.8 L861.2 291.5 L861.8 291.9 L862.5 295.8 L863.1 296.5 L863.8 288.0 L864.5 280.2 L865.1 271.5 L865.8 257.4 L866.4 245.2 L867.1 235.6 L867.8 235.6 L868.4 240.7 L869.1 253.0 L869.7 269.8 L870.4 285.4 L871.1 293.6 L871.7 298.3 L872.4 301.1 L873.0 302.7 L873.7 304.0 L874.4 304.1 L875.0 306.3 L875.7 307.8 L876.3 309.8 L877.0 310.3 L877.7 311.3 L878.3 312.0 L879.0 313.7 L879.6 316.9 L880.3 318.2 L881.0 320.6 L881.6 323.1 L882.3 327.0 L882.9 329.8 L883.6 331.6 L884.3 332.7 L884.9 334.2 L885.6 334.2 L886.2 335.9 L886.9 334.7 L887.6 335.6 L888.2 336.4 L888.9 339.9 L889.5 340.9 L890.2 342.3 L890.9 341.4 L891.5 343.0 L892.2 343.2 L892.8 343.3 L893.5 344.3 L894.2 346.5 L894.8 346.8 L895.5 345.6 L896.1 345.1 L896.8 344.4 L897.5 342.0 L898.1 340.1 L898.8 340.3 L899.4 340.1 L900.1 339.8 L900.8 339.2 L901.4 337.9 L902.1 337.1 L902.7 335.8 L903.4 334.9 L904.1 334.3 L904.7 333.2 L905.4 334.0 L906.0 336.3 L906.7 337.0 L907.4 338.6 L908.0 340.5 L908.7 341.2 L909.3 343.6 L910.0 342.9 L910.7 343.1 L911.3 342.7 L912.0 341.8 L912.6 342.3 L913.3 341.7 L914.0 343.1 L914.6 341.2 L915.3 343.4 L915.9 345.1 L916.6 346.3 L917.3 346.0 L917.9 344.1 L918.6 341.7 L919.2 341.4 L919.9 341.1 L920.6 342.4 L921.2 342.9 L921.9 343.8 L922.5 340.8 L923.2 339.1 L923.9 337.6 L924.5 337.6 L925.2 334.7 L925.8 335.1 L926.5 333.0 L927.2 334.5 L927.8 336.2 L928.5 339.3 L929.1 340.8 L929.8 340.2 L930.5 339.0 L931.1 337.7 L931.8 336.3 L932.4 335.6 L933.1 334.4 L933.8 334.9 L934.4 333.4 L935.1 334.0 L935.7 333.7 L936.4 332.8 L937.1 332.8 L937.7 331.0 L938.4 331.0 L939.0 330.7 L939.7 329.5 L940.4 328.3 L941.0 327.2 L941.7 326.4 L942.3 325.9 L943.0 325.0 L943.7 325.4 L944.3 324.4 L945.0 326.3 L945.6 326.4 L946.3 327.2 L947.0 328.6 L947.6 328.0 L948.3 327.8 L948.9 328.2 L949.6 327.5 L950.3 328.2 L950.9 326.5 L951.6 326.1 L952.2 326.2 L952.9 326.7 L953.6 326.6 L954.2 328.1 L954.9 329.3 L955.5 329.3 L956.2 329.9 L956.9 328.8 L957.5 329.7 L958.2 329.9 L958.8 330.5 L959.5 331.0 L960.2 331.1 L960.8 330.9 L961.5 329.7 L962.1 328.5 L962.8 327.8 L963.5 329.0 L964.1 329.8 L964.8 329.8 L965.4 329.9 L966.1 331.1 L966.8 332.4 L967.4 335.1 L968.1 336.0 L968.7 335.2 L969.4 333.6 L970.1 333.2 L970.7 333.9 L971.4 332.9 L972.0 333.7 L972.7 334.3 L973.4 333.3 L974.0 333.7 L974.7 332.6 L975.3 332.9 L976.0 332.7 L976.7 333.4 L977.3 332.7 L978.0 332.7 L978.6 333.3 L979.3 332.9 L980.0 332.7 L980.6 332.1 L981.3 333.0 L981.9 333.2 L982.6 334.6 L983.3 336.0 L983.9 337.0 L984.6 337.9 L985.2 337.7 L985.9 338.2 L986.6 339.1 L987.2 337.8 L987.9 336.0 L988.5 335.6 L989.2 335.9 L989.9 335.1 L990.5 334.0 L991.2 334.1 L991.8 333.7 L992.5 333.6 L993.2 333.0 L993.8 332.0 L994.5 331.5 L995.1 331.5 L995.8 331.1 L996.5 329.4 L997.1 330.6 L997.8 330.0 L998.4 328.9 L999.1 327.6 L999.8 327.5 L1000.4 325.2 L1001.1 324.0 L1001.7 324.0 L1002.4 324.6 L1003.1 325.8 L1003.7 325.5 L1004.4 324.7 L1005.0 324.4 L1005.7 326.0 L1006.4 327.0 L1007.0 328.1 L1007.7 328.4 L1008.3 327.6 L1009.0 327.1 L1009.7 327.2 L1010.3 327.4 L1011.0 328.4 L1011.6 328.4 L1012.3 327.9 L1013.0 328.3 L1013.6 326.5 L1014.3 325.8 L1014.9 326.3 L1015.6 327.1 L1016.3 327.0 L1016.9 325.6 L1017.6 324.4 L1018.2 324.6 L1018.9 325.0 L1019.6 323.3 L1020.2 322.3 L1020.9 321.6 L1021.5 321.7 L1022.2 323.1 L1022.9 323.1 L1023.5 322.9 L1024.2 323.3 L1024.8 323.1 L1025.5 322.5 L1026.2 323.0 L1026.8 322.9 L1027.5 320.8 L1028.1 321.0 L1028.8 321.5 L1029.5 320.5 L1030.1 321.8 L1030.8 322.0 L1031.4 321.9 L1032.1 321.3 L1032.8 322.0 L1033.4 322.6 L1034.1 322.1 L1034.7 320.4 L1035.4 321.8 L1036.1 322.0 L1036.7 319.8 L1037.4 319.4 L1038.0 315.8 L1038.7 314.2 L1039.4 312.1 L1040.0 312.1 L1040.7 313.4 L1041.3 316.4 L1042.0 316.6 L1042.7 318.3 L1043.3 317.8 L1044.0 317.3 L1044.6 317.8 L1045.3 316.7 L1046.0 318.2 L1046.6 317.6 L1047.3 316.5 L1047.9 316.6 L1048.6 316.5 L1049.3 316.1 L1049.9 316.6 L1050.6 318.0 L1051.2 317.8 L1051.9 317.2 L1052.6 318.2 L1053.2 319.3 L1053.9 319.0 L1054.5 319.2 L1055.2 318.9 L1055.9 318.3 L1056.5 319.6 L1057.2 320.6 L1057.8 322.3 L1058.5 323.8 L1059.2 321.4 L1059.8 320.4 L1060.5 320.4 L1061.1 322.1 L1061.8 321.7 L1062.5 322.0 L1063.1 320.8 L1063.8 321.5 L1064.4 322.2 L1065.1 322.8 L1065.8 323.1 L1066.4 322.2 L1067.1 323.2 L1067.7 322.0 L1068.4 320.9 L1069.1 319.9 L1069.7 319.9 L1070.4 321.0 L1071.0 321.1 L1071.7 321.6 L1072.4 321.6 L1073.0 322.3 L1073.7 323.0 L1074.3 322.7 L1075.0 325.7 L1075.7 326.9 L1076.3 325.5 L1077.0 320.4 L1077.6 314.4 L1078.3 308.4 L1079.0 303.0 L1079.6 299.9 L1080.3 296.3 L1080.9 292.5 L1081.6 289.5 L1082.3 291.7 L1082.9 294.5 L1083.6 295.1 L1084.2 295.2 L1084.9 296.2 L1085.6 298.1 L1086.2 297.6 L1086.9 296.5 L1087.5 296.3 L1088.2 298.6 L1088.9 299.1 L1089.5 301.4 L1090.2 303.6 L1090.8 304.5 L1091.5 304.6 L1092.2 306.4 L1092.8 306.4 L1093.5 307.3 L1094.1 309.6 L1094.8 310.4 L1095.5 313.1 L1095.8 315.7" fill="none" stroke="#0e97d3" stroke-width="2.9" stroke-linecap="round" stroke-linejoin="round" stroke-dasharray="0.01 6"/>
<path d="M68.5 275.5 L70.0 273.5 L71.5 274.2 L73.9 270.8 L75.8 274.1 L77.8 276.5 L79.3 274.7 L80.8 270.8 L83.4 270.8 L84.8 261.3 L86.7 260.3 L88.2 253.3 L89.7 247.4 L91.7 233.1 L93.7 221.7 L95.1 223.6 L96.6 225.6 L98.6 222.7 L100.6 209.8 L101.2 189.1 L102.0 179.2 L103.2 170.3 L105.2 184.1 L106.8 180.2 L108.5 175.2 L110.5 155.4 L111.9 146.5 L113.9 152.4 L116.4 152.4 L118.4 141.5 L119.4 125.7 L121.0 124.7 L122.4 139.6 L124.4 157.4 L126.3 179.2 L127.7 195.0 L127.9 203.9 L130.3 195.0 L132.9 183.1 L134.8 190.1 L137.2 192.0 L139.6 190.1 L142.2 197.0 L143.7 199.7 L145.2 200.0 L147.1 203.9 L148.6 206.5 L150.1 211.8 L152.7 224.7 L154.4 214.3 L156.0 206.8 L158.6 204.5 L159.8 211.0 L161.0 204.0 L162.2 212.5 L163.4 205.0 L164.6 213.0 L165.8 206.0 L167.0 212.5 L168.2 206.5 L169.4 211.0 L170.6 206.5 L172.6 202.0 L174.2 208.0 L175.4 205.0 L176.6 211.0 L177.8 206.5 L179.0 211.0 L180.2 207.5 L181.0 210.0 L182.8 234.6 L184.3 231.4 L185.7 226.6 L188.3 229.6 L190.1 236.5 L192.7 221.7 L194.7 219.7 L196.6 221.7 L198.6 219.7 L200.2 231.6 L202.6 231.6 L205.2 215.7 L207.5 213.8 L209.5 215.7 L211.5 211.8 L213.5 213.8 L215.4 210.8 L216.9 211.3 L218.4 210.8 L219.9 211.0 L221.4 207.8 L222.8 194.0 L222.4 189.1 L223.9 192.6 L225.3 194.0 L227.9 191.1 L229.3 187.0 L230.7 183.1 L233.3 167.3 L234.7 156.1 L236.1 154.9 L237.6 154.2 L240.2 147.2 L241.6 129.4 L242.6 116.5 L244.0 122.5 L245.9 127.4 L247.5 130.7 L249.1 128.4 L250.5 128.6 L251.9 129.4 L253.5 119.5 L255.1 106.6 L257.0 104.7 L259.4 108.6 L261.2 109.2 L263.0 111.6 L264.7 108.9 L266.3 108.6 L267.7 99.7 L268.9 94.8 L270.5 99.7 L272.5 97.7 L274.5 92.8 L276.2 99.7 L278.2 107.6 L279.2 115.5 L281.2 121.5 L282.7 122.1 L284.2 122.5 L285.5 129.4 L287.1 139.3 L289.1 151.2 L291.5 155.2 L293.5 152.2 L295.1 157.1 L297.0 167.0 L298.5 169.2 L300.0 171.0 L301.5 169.6 L303.0 169.0 L304.5 168.0 L305.9 167.0 L307.9 167.3 L309.9 167.0 L311.8 178.7 L314.2 183.7 L316.7 179.7 L319.3 170.8 L321.7 169.8 L323.2 172.5 L324.6 173.8 L326.1 174.5 L327.6 172.8 L329.6 176.7 L332.0 174.8 L334.0 181.7 L336.5 182.7 L339.1 188.6 L340.5 189.8 L341.9 190.6 L344.5 197.5 L347.0 201.5 L347.8 213.4 L350.4 215.3 L351.9 213.4 L353.4 215.3 L354.9 218.1 L356.3 219.3 L357.8 222.7 L359.3 229.2 L361.7 245.6 L364.1 259.5 L366.6 251.6 L369.2 242.1 L371.2 233.2 L373.2 236.1 L375.1 235.2 L377.1 209.4 L379.5 191.6 L381.1 205.4 L383.1 219.3 L385.1 208.4 L387.4 207.4 L389.4 213.4 L391.4 213.4 L392.6 194.6 L394.6 195.5 L395.9 204.5 L398.5 205.4 L400.9 215.3 L403.3 229.2 L404.9 237.7 L407.2 251.6 L409.2 262.5 L411.2 251.6 L412.2 246.6 L414.2 252.6 L415.6 251.9 L417.1 251.6 L418.7 243.1 L420.2 236.5 L421.7 233.2 L423.7 235.2 L425.1 238.6 L426.6 242.1 L428.6 229.2 L430.2 217.3 L432.6 218.3 L434.6 219.3 L436.5 210.4 L438.0 208.1 L439.5 207.4 L441.0 206.2 L442.5 204.5 L444.5 199.5 L445.4 190.6 L447.4 199.5 L449.4 194.6 L451.4 191.6 L453.4 184.7 L455.4 177.7 L456.8 179.8 L458.3 174.8 L460.4 159.6 L462.4 147.7 L464.4 152.7 L466.3 144.8 L467.7 142.8 L469.3 151.7 L471.7 154.7 L474.3 156.6 L476.2 162.6 L478.2 167.5 L480.2 171.5 L482.2 178.4 L484.8 181.4 L487.1 182.4 L488.6 183.3 L490.1 184.4 L491.6 186.8 L493.1 187.3 L495.1 189.3 L496.0 203.2 L497.0 216.0 L498.6 207.1 L500.6 201.2 L502.6 207.1 L504.9 211.1 L506.9 219.0 L508.9 212.1 L510.5 218.0 L512.5 211.1 L514.5 207.1 L516.4 215.1 L518.8 213.1 L520.8 221.0 L522.9 223.0 L524.4 224.5 L525.8 228.9 L528.2 237.8 L529.8 246.7 L532.2 241.8 L534.8 236.8 L536.7 232.9 L538.7 237.8 L541.3 240.8 L543.3 244.8 L545.6 241.8 L548.0 239.8 L550.6 243.8 L552.1 246.9 L553.6 250.7 L555.9 259.6 L557.9 269.5 L560.5 279.4 L561.9 284.4 L563.9 280.4 L565.8 283.4 L567.4 289.3 L569.0 294.3 L570.4 289.3 L572.0 290.0 L573.7 289.5 L575.4 289.7 L576.8 290.0 L578.3 289.8 L579.8 288.8 L581.3 289.7 L583.3 287.3 L585.2 295.2 L587.6 298.2 L589.6 303.2 L591.6 298.2 L593.6 300.2 L595.5 289.3 L597.5 284.4 L599.5 287.3 L601.5 279.4 L603.5 267.5 L605.5 275.4 L607.0 282.4 L608.5 284.8 L610.0 286.3 L611.5 287.1 L613.0 289.3 L614.5 292.9 L615.9 293.3 L617.9 301.2 L619.9 294.3 L621.9 298.2 L624.5 294.3 L626.8 297.2 L629.2 297.2 L631.8 291.3 L634.4 283.4 L636.7 285.4 L638.2 283.9 L639.7 283.4 L641.2 284.5 L642.7 284.4 L644.2 283.4 L645.6 282.4 L648.2 284.4 L650.2 291.3 L651.6 291.6 L653.0 290.3 L654.8 289.8 L656.5 290.3 L658.0 294.1 L659.5 296.2 L662.1 301.2 L664.5 306.1 L665.9 305.0 L667.4 304.2 L668.9 304.3 L670.4 302.2 L672.4 300.2 L674.8 305.1 L677.3 313.1 L679.9 320.4 L681.5 324.4 L683.5 320.4 L685.8 318.4 L688.2 321.4 L690.2 327.3 L692.2 330.3 L694.2 328.3 L696.7 333.3 L698.2 336.3 L699.7 338.2 L701.7 336.2 L703.2 335.9 L704.6 335.2 L706.1 333.6 L707.6 333.3 L710.0 327.3 L712.6 325.4 L715.1 316.4 L717.5 321.4 L719.9 318.4 L722.5 315.4 L725.0 319.4 L726.7 319.1 L728.4 317.4 L729.9 315.9 L731.4 313.5 L732.9 316.4 L734.4 316.4 L735.8 318.6 L737.3 321.4 L738.8 323.8 L740.3 325.4 L741.8 326.8 L743.3 327.3 L744.8 328.6 L746.2 329.3 L747.7 330.0 L749.2 330.3 L750.7 329.5 L752.2 328.3 L753.7 326.3 L755.1 325.4 L756.5 314.5 L758.0 314.1 L759.5 315.4 L761.1 319.4 L762.1 328.3 L764.6 328.3 L766.6 331.3 L769.0 330.3 L770.5 331.9 L772.0 334.3 L773.5 337.2 L775.0 339.2 L776.4 340.0 L777.9 338.2 L780.5 336.2 L782.9 334.3 L784.5 341.2 L786.8 338.2 L789.2 339.2 L791.8 337.2 L793.8 335.2 L795.7 338.2 L798.3 339.2 L799.7 331.3 L801.1 323.4 L803.7 322.4 L805.6 317.4 L807.0 306.5 L809.6 307.5 L811.6 305.5 L814.2 301.6 L816.5 295.6 L817.4 285.2 L818.6 265.4 L819.4 254.6 L820.6 269.4 L821.8 280.3 L823.0 271.4 L824.5 267.4 L825.7 254.6 L827.7 256.5 L829.3 264.5 L831.7 266.4 L834.3 265.4 L836.8 270.4 L838.2 275.4 L840.2 286.2 L842.8 288.2 L844.8 296.1 L847.1 304.1 L848.6 307.9 L850.1 310.0 L851.8 319.4 L853.2 321.4 L855.1 315.4 L857.4 307.0 L859.0 301.1 L860.6 289.2 L861.4 281.3 L863.0 293.2 L864.2 279.3 L865.4 261.5 L866.5 239.7 L867.3 230.8 L868.5 239.7 L869.5 259.5 L870.5 283.3 L871.5 295.1 L873.3 301.1 L875.8 305.1 L878.4 309.0 L881.0 319.4 L883.0 329.3 L885.0 332.3 L887.5 330.3 L889.9 334.3 L892.3 336.2 L894.9 340.2 L897.4 335.2 L899.8 333.3 L902.2 329.3 L904.8 327.3 L907.3 331.3 L909.7 338.2 L912.1 337.2 L914.6 336.2 L917.2 340.2 L919.6 337.2 L922.0 338.2 L924.0 332.3 L926.5 329.3 L929.1 334.3 L930.5 334.0 L931.9 332.3 L934.5 329.3 L937.0 328.3 L939.4 326.3 L941.8 320.4 L943.4 319.4 L944.9 320.9 L946.3 321.4 L947.8 322.4 L949.3 322.4 L950.8 322.0 L952.3 321.4 L953.8 322.4 L955.2 322.4 L957.2 324.1 L959.2 323.4 L961.2 323.6 L963.2 324.4 L964.7 324.9 L966.1 326.3 L968.1 330.3 L969.6 331.6 L971.1 330.3 L973.1 330.0 L975.0 329.3 L977.0 329.8 L979.0 328.9 L980.5 329.2 L982.0 328.3 L984.5 331.3 L986.9 333.3 L988.4 330.0 L989.9 328.3 L991.4 328.0 L992.9 324.4 L994.4 324.1 L995.8 321.4 L997.3 322.0 L998.8 322.4 L1000.3 321.9 L1001.8 320.4 L1003.3 320.0 L1004.8 319.4 L1006.2 320.8 L1007.7 323.4 L1009.2 322.8 L1010.7 322.4 L1012.2 321.6 L1013.7 320.4 L1015.1 321.2 L1016.6 320.4 L1018.1 320.4 L1019.6 319.4 L1021.6 316.4 L1023.1 317.5 L1024.5 318.4 L1026.0 318.8 L1027.5 317.4 L1029.0 316.4 L1030.5 316.4 L1032.0 316.5 L1033.5 315.4 L1035.0 316.7 L1036.4 316.4 L1038.4 311.5 L1039.4 309.5 L1040.9 310.8 L1042.4 312.5 L1043.9 311.6 L1045.3 313.1 L1046.8 312.2 L1048.3 312.5 L1050.3 312.3 L1052.3 311.9 L1053.8 313.0 L1055.2 313.5 L1056.7 315.5 L1058.2 315.4 L1059.7 314.8 L1061.2 315.4 L1062.7 314.7 L1064.2 313.9 L1065.6 314.1 L1067.1 313.5 L1068.6 313.2 L1070.1 313.1 L1071.6 312.2 L1073.1 314.5 L1074.6 317.0 L1076.0 318.4 L1077.6 307.5 L1079.0 296.6 L1080.4 289.7 L1081.6 284.8 L1083.0 291.7 L1085.0 293.7 L1087.5 294.6 L1089.9 299.6 L1092.3 304.6 L1094.8 307.5 L1095.8 314.5" fill="none" stroke="#0230ff" stroke-width="3.15" stroke-linecap="round" stroke-linejoin="round"/>
<path d="M293.5 502.5h30.2" fill="none" stroke="#10597f" stroke-width="2.9" stroke-linecap="round" stroke-dasharray="0.01 6"/>
<text x="332 347.3" y="507.5" font-size="15.33" fill="#666666">辽宁</text>
<path d="M383.5 502.5h30.2" fill="none" stroke="#0aa8ee" stroke-width="2.9" stroke-linecap="round" stroke-dasharray="0.01 6"/>
<text x="422 437.3" y="507.5" font-size="15.33" fill="#666666">山东</text>
<path d="M473.5 502.5h30.2" fill="none" stroke="#0a6418" stroke-width="2.9" stroke-linecap="round" stroke-dasharray="0.01 6"/>
<text x="511.5 526.8" y="507.5" font-size="15.33" fill="#666666">江苏</text>
<path d="M562.6 502.5h30.2" fill="none" stroke="#0e97d3" stroke-width="2.9" stroke-linecap="round" stroke-dasharray="0.01 6"/>
<text x="601 616.3" y="507.5" font-size="15.33" fill="#666666">广东</text>
<path d="M652.5 502.5H686.5" fill="none" stroke="#0230ff" stroke-width="3" stroke-linecap="round"/>
<text x="689.7 705 720.3 735.6 755.1 770.5 786.3 791 805.7" y="507.5" font-size="15.33" fill="#666666">平均价格（元/吨）</text>
</svg></body></html>
